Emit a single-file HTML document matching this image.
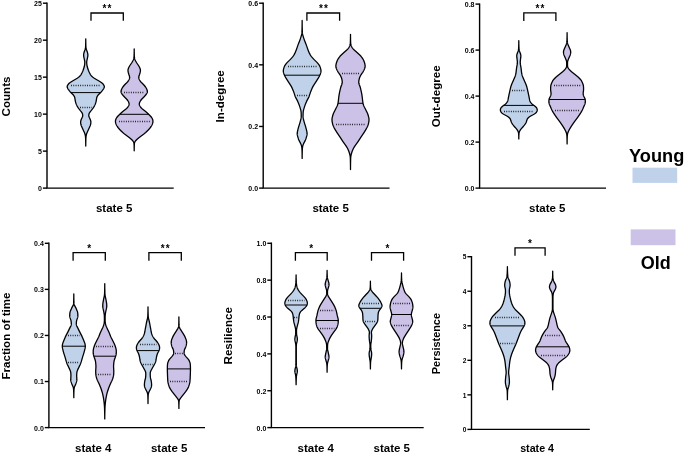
<!DOCTYPE html>
<html lang="en">
<head>
<meta charset="utf-8">
<title>Violin plots: Young vs Old</title>
<style>
html,body{margin:0;padding:0;background:#fff;}
body{width:685px;height:454px;overflow:hidden;}
svg{display:block;will-change:transform;}
svg text{font-family:"Liberation Sans", sans-serif;fill:#000000;}
</style>
</head>
<body>
<svg width="685" height="454" viewBox="0 0 685 454">
<rect width="685" height="454" fill="#ffffff"/>
<path d="M47 2.5 V188.1 H173.7" fill="none" stroke="#000000" stroke-width="1.4" stroke-linejoin="miter"/>
<line x1="42.9" y1="188.1" x2="47" y2="188.1" stroke="#000000" stroke-width="1.4"/>
<text x="41.9" y="191.01" font-size="7" font-weight="700" text-anchor="end">0</text>
<line x1="42.9" y1="151.12" x2="47" y2="151.12" stroke="#000000" stroke-width="1.4"/>
<text x="41.9" y="154.03" font-size="7" font-weight="700" text-anchor="end">5</text>
<line x1="42.9" y1="114.14" x2="47" y2="114.14" stroke="#000000" stroke-width="1.4"/>
<text x="41.9" y="117.05" font-size="7" font-weight="700" text-anchor="end">10</text>
<line x1="42.9" y1="77.16" x2="47" y2="77.16" stroke="#000000" stroke-width="1.4"/>
<text x="41.9" y="80.07" font-size="7" font-weight="700" text-anchor="end">15</text>
<line x1="42.9" y1="40.18" x2="47" y2="40.18" stroke="#000000" stroke-width="1.4"/>
<text x="41.9" y="43.09" font-size="7" font-weight="700" text-anchor="end">20</text>
<line x1="42.9" y1="3.2" x2="47" y2="3.2" stroke="#000000" stroke-width="1.4"/>
<text x="41.9" y="6.11" font-size="7" font-weight="700" text-anchor="end">25</text>
<text transform="translate(9.7 96.5) rotate(-90)" font-size="11.6" font-weight="700" text-anchor="middle">Counts</text>
<text x="114.2" y="212.3" font-size="11.5" font-weight="700" text-anchor="middle">state 5</text>
<path d="M91 20.8 V13 H123.3 V20.8" fill="none" stroke="#000000" stroke-width="1.3"/>
<text x="107.6" y="11.9" font-size="10" font-weight="700" text-anchor="middle" letter-spacing="1.2">**</text>
<path d="M85.75 38.8 L85.75 39.3 L85.75 39.8 L85.76 40.3 L85.76 40.8 L85.76 41.3 L85.77 41.8 L85.78 42.3 L85.79 42.8 L85.8 43.3 L85.81 43.8 L85.82 44.3 L85.83 44.8 L85.85 45.3 L85.87 45.8 L85.89 46.3 L85.91 46.8 L85.94 47.3 L85.98 47.8 L86.05 48.3 L86.15 48.8 L86.29 49.3 L86.47 49.8 L86.66 50.3 L86.86 50.8 L87.04 51.3 L87.22 51.8 L87.38 52.3 L87.53 52.8 L87.66 53.3 L87.77 53.8 L87.84 54.3 L87.88 54.8 L87.87 55.3 L87.83 55.8 L87.77 56.3 L87.68 56.8 L87.59 57.3 L87.48 57.8 L87.38 58.3 L87.27 58.8 L87.15 59.3 L87.04 59.8 L86.93 60.3 L86.83 60.8 L86.76 61.3 L86.71 61.8 L86.7 62.3 L86.7 62.8 L86.73 63.3 L86.78 63.8 L86.83 64.3 L86.9 64.8 L86.98 65.3 L87.07 65.8 L87.17 66.3 L87.29 66.8 L87.43 67.3 L87.57 67.8 L87.72 68.3 L87.88 68.8 L88.04 69.3 L88.21 69.8 L88.39 70.3 L88.59 70.8 L88.79 71.3 L89.01 71.8 L89.24 72.3 L89.48 72.8 L89.75 73.3 L90.03 73.8 L90.32 74.3 L90.64 74.8 L90.99 75.3 L91.38 75.8 L91.83 76.3 L92.35 76.8 L92.94 77.3 L93.6 77.8 L94.33 78.3 L95.12 78.8 L95.95 79.3 L96.81 79.8 L97.68 80.3 L98.53 80.8 L99.36 81.3 L100.17 81.8 L100.93 82.3 L101.64 82.8 L102.27 83.3 L102.81 83.8 L103.25 84.3 L103.61 84.8 L103.9 85.3 L104.12 85.8 L104.26 86.3 L104.31 86.8 L104.25 87.3 L104.09 87.8 L103.84 88.3 L103.52 88.8 L103.17 89.3 L102.8 89.8 L102.43 90.3 L102.06 90.8 L101.67 91.3 L101.27 91.8 L100.85 92.3 L100.4 92.8 L99.91 93.3 L99.4 93.8 L98.87 94.3 L98.37 94.8 L97.93 95.3 L97.56 95.8 L97.27 96.3 L97.04 96.8 L96.87 97.3 L96.73 97.8 L96.62 98.3 L96.53 98.8 L96.44 99.3 L96.37 99.8 L96.29 100.3 L96.2 100.8 L96.1 101.3 L95.99 101.8 L95.86 102.3 L95.72 102.8 L95.56 103.3 L95.39 103.8 L95.19 104.3 L94.97 104.8 L94.73 105.3 L94.46 105.8 L94.17 106.3 L93.87 106.8 L93.55 107.3 L93.22 107.8 L92.87 108.3 L92.51 108.8 L92.13 109.3 L91.74 109.8 L91.35 110.3 L90.94 110.8 L90.53 111.3 L90.14 111.8 L89.79 112.3 L89.49 112.8 L89.24 113.3 L89.06 113.8 L88.92 114.3 L88.82 114.8 L88.77 115.3 L88.79 115.8 L88.88 116.3 L89.04 116.8 L89.24 117.3 L89.47 117.8 L89.7 118.3 L89.93 118.8 L90.15 119.3 L90.36 119.8 L90.54 120.3 L90.69 120.8 L90.8 121.3 L90.86 121.8 L90.88 122.3 L90.85 122.8 L90.79 123.3 L90.72 123.8 L90.61 124.3 L90.49 124.8 L90.34 125.3 L90.16 125.8 L89.96 126.3 L89.75 126.8 L89.53 127.3 L89.31 127.8 L89.08 128.3 L88.85 128.8 L88.62 129.3 L88.39 129.8 L88.16 130.3 L87.92 130.8 L87.69 131.3 L87.46 131.8 L87.23 132.3 L87.01 132.8 L86.81 133.3 L86.63 133.8 L86.47 134.3 L86.34 134.8 L86.23 135.3 L86.14 135.8 L86.06 136.3 L86.01 136.8 L85.97 137.3 L85.94 137.8 L85.91 138.3 L85.89 138.8 L85.87 139.3 L85.85 139.8 L85.84 140.3 L85.82 140.8 L85.81 141.3 L85.8 141.8 L85.79 142.3 L85.78 142.8 L85.77 143.3 L85.76 143.8 L85.76 144.3 L85.76 144.8 L85.75 145.3 L85.75 145.8 L85.75 146.05 L85.75 145.8 L85.75 145.3 L85.74 144.8 L85.74 144.3 L85.74 143.8 L85.73 143.3 L85.72 142.8 L85.71 142.3 L85.7 141.8 L85.69 141.3 L85.68 140.8 L85.66 140.3 L85.65 139.8 L85.63 139.3 L85.61 138.8 L85.59 138.3 L85.56 137.8 L85.53 137.3 L85.49 136.8 L85.44 136.3 L85.36 135.8 L85.27 135.3 L85.16 134.8 L85.03 134.3 L84.87 133.8 L84.69 133.3 L84.49 132.8 L84.27 132.3 L84.04 131.8 L83.81 131.3 L83.58 130.8 L83.34 130.3 L83.11 129.8 L82.88 129.3 L82.65 128.8 L82.42 128.3 L82.19 127.8 L81.97 127.3 L81.75 126.8 L81.54 126.3 L81.34 125.8 L81.16 125.3 L81.01 124.8 L80.89 124.3 L80.78 123.8 L80.71 123.3 L80.65 122.8 L80.62 122.3 L80.64 121.8 L80.7 121.3 L80.81 120.8 L80.96 120.3 L81.14 119.8 L81.35 119.3 L81.57 118.8 L81.8 118.3 L82.03 117.8 L82.26 117.3 L82.46 116.8 L82.62 116.3 L82.71 115.8 L82.73 115.3 L82.68 114.8 L82.58 114.3 L82.44 113.8 L82.26 113.3 L82.01 112.8 L81.71 112.3 L81.36 111.8 L80.97 111.3 L80.56 110.8 L80.15 110.3 L79.76 109.8 L79.37 109.3 L78.99 108.8 L78.63 108.3 L78.28 107.8 L77.95 107.3 L77.63 106.8 L77.33 106.3 L77.04 105.8 L76.77 105.3 L76.53 104.8 L76.31 104.3 L76.11 103.8 L75.94 103.3 L75.78 102.8 L75.64 102.3 L75.51 101.8 L75.4 101.3 L75.3 100.8 L75.21 100.3 L75.13 99.8 L75.06 99.3 L74.97 98.8 L74.88 98.3 L74.77 97.8 L74.63 97.3 L74.46 96.8 L74.23 96.3 L73.94 95.8 L73.57 95.3 L73.13 94.8 L72.63 94.3 L72.1 93.8 L71.59 93.3 L71.1 92.8 L70.65 92.3 L70.23 91.8 L69.83 91.3 L69.44 90.8 L69.07 90.3 L68.7 89.8 L68.33 89.3 L67.98 88.8 L67.66 88.3 L67.41 87.8 L67.25 87.3 L67.19 86.8 L67.24 86.3 L67.38 85.8 L67.6 85.3 L67.89 84.8 L68.25 84.3 L68.69 83.8 L69.23 83.3 L69.86 82.8 L70.57 82.3 L71.33 81.8 L72.14 81.3 L72.97 80.8 L73.82 80.3 L74.69 79.8 L75.55 79.3 L76.38 78.8 L77.17 78.3 L77.9 77.8 L78.56 77.3 L79.15 76.8 L79.67 76.3 L80.12 75.8 L80.51 75.3 L80.86 74.8 L81.18 74.3 L81.47 73.8 L81.75 73.3 L82.02 72.8 L82.26 72.3 L82.49 71.8 L82.71 71.3 L82.91 70.8 L83.11 70.3 L83.29 69.8 L83.46 69.3 L83.62 68.8 L83.78 68.3 L83.93 67.8 L84.07 67.3 L84.21 66.8 L84.33 66.3 L84.43 65.8 L84.52 65.3 L84.6 64.8 L84.67 64.3 L84.72 63.8 L84.77 63.3 L84.8 62.8 L84.8 62.3 L84.79 61.8 L84.74 61.3 L84.67 60.8 L84.57 60.3 L84.46 59.8 L84.35 59.3 L84.23 58.8 L84.12 58.3 L84.02 57.8 L83.91 57.3 L83.82 56.8 L83.73 56.3 L83.67 55.8 L83.63 55.3 L83.62 54.8 L83.66 54.3 L83.73 53.8 L83.84 53.3 L83.97 52.8 L84.12 52.3 L84.28 51.8 L84.46 51.3 L84.64 50.8 L84.84 50.3 L85.03 49.8 L85.21 49.3 L85.35 48.8 L85.45 48.3 L85.52 47.8 L85.56 47.3 L85.59 46.8 L85.61 46.3 L85.63 45.8 L85.65 45.3 L85.67 44.8 L85.68 44.3 L85.69 43.8 L85.7 43.3 L85.71 42.8 L85.72 42.3 L85.73 41.8 L85.74 41.3 L85.74 40.8 L85.74 40.3 L85.75 39.8 L85.75 39.3 Z" fill="#C0D2EA" stroke="#000000" stroke-width="1.3" stroke-linejoin="round"/>
<line x1="70.92" y1="92.6" x2="100.58" y2="92.6" stroke="#000000" stroke-width="1.0"/>
<line x1="71" y1="85.5" x2="100.53" y2="85.5" stroke="#000000" stroke-width="1.3" stroke-opacity="0.88" stroke-dasharray="0.9 1.4"/>
<line x1="80" y1="107.5" x2="91.99" y2="107.5" stroke="#000000" stroke-width="1.3" stroke-opacity="0.88" stroke-dasharray="0.9 1.4"/>
<path d="M134.2 49 L134.2 49.5 L134.2 50 L134.21 50.5 L134.21 51 L134.22 51.5 L134.23 52 L134.24 52.5 L134.25 53 L134.26 53.5 L134.27 54 L134.29 54.5 L134.3 55 L134.32 55.5 L134.34 56 L134.37 56.5 L134.4 57 L134.44 57.5 L134.51 58 L134.61 58.5 L134.75 59 L134.93 59.5 L135.15 60 L135.39 60.5 L135.64 61 L135.91 61.5 L136.19 62 L136.48 62.5 L136.8 63 L137.13 63.5 L137.47 64 L137.82 64.5 L138.17 65 L138.5 65.5 L138.81 66 L139.09 66.5 L139.36 67 L139.61 67.5 L139.84 68 L140.04 68.5 L140.21 69 L140.33 69.5 L140.4 70 L140.41 70.5 L140.38 71 L140.31 71.5 L140.21 72 L140.09 72.5 L139.97 73 L139.83 73.5 L139.68 74 L139.52 74.5 L139.34 75 L139.17 75.5 L139.01 76 L138.88 76.5 L138.79 77 L138.77 77.5 L138.82 78 L138.93 78.5 L139.09 79 L139.31 79.5 L139.56 80 L139.85 80.5 L140.18 81 L140.55 81.5 L140.97 82 L141.44 82.5 L141.94 83 L142.46 83.5 L142.97 84 L143.46 84.5 L143.92 85 L144.36 85.5 L144.77 86 L145.17 86.5 L145.53 87 L145.86 87.5 L146.16 88 L146.43 88.5 L146.67 89 L146.88 89.5 L147.07 90 L147.22 90.5 L147.32 91 L147.37 91.5 L147.34 92 L147.23 92.5 L147.03 93 L146.77 93.5 L146.44 94 L146.06 94.5 L145.65 95 L145.23 95.5 L144.79 96 L144.35 96.5 L143.89 97 L143.41 97.5 L142.92 98 L142.42 98.5 L141.93 99 L141.47 99.5 L141.06 100 L140.69 100.5 L140.37 101 L140.09 101.5 L139.84 102 L139.62 102.5 L139.45 103 L139.33 103.5 L139.29 104 L139.32 104.5 L139.44 105 L139.63 105.5 L139.88 106 L140.19 106.5 L140.54 107 L140.93 107.5 L141.37 108 L141.88 108.5 L142.44 109 L143.06 109.5 L143.7 110 L144.35 110.5 L144.99 111 L145.6 111.5 L146.19 112 L146.75 112.5 L147.29 113 L147.82 113.5 L148.34 114 L148.85 114.5 L149.35 115 L149.86 115.5 L150.35 116 L150.81 116.5 L151.24 117 L151.62 117.5 L151.94 118 L152.2 118.5 L152.43 119 L152.62 119.5 L152.77 120 L152.88 120.5 L152.94 121 L152.96 121.5 L152.92 122 L152.84 122.5 L152.71 123 L152.56 123.5 L152.38 124 L152.18 124.5 L151.95 125 L151.69 125.5 L151.4 126 L151.08 126.5 L150.72 127 L150.35 127.5 L149.96 128 L149.55 128.5 L149.13 129 L148.69 129.5 L148.24 130 L147.76 130.5 L147.26 131 L146.74 131.5 L146.2 132 L145.65 132.5 L145.07 133 L144.48 133.5 L143.86 134 L143.21 134.5 L142.55 135 L141.87 135.5 L141.19 136 L140.51 136.5 L139.86 137 L139.22 137.5 L138.59 138 L137.99 138.5 L137.41 139 L136.87 139.5 L136.36 140 L135.9 140.5 L135.48 141 L135.13 141.5 L134.84 142 L134.63 142.5 L134.49 143 L134.41 143.5 L134.36 144 L134.33 144.5 L134.31 145 L134.29 145.5 L134.27 146 L134.26 146.5 L134.24 147 L134.23 147.5 L134.22 148 L134.22 148.5 L134.21 149 L134.21 149.5 L134.2 150 L134.2 150.5 L134.2 150.75 L134.2 150.5 L134.2 150 L134.19 149.5 L134.19 149 L134.18 148.5 L134.18 148 L134.17 147.5 L134.16 147 L134.14 146.5 L134.13 146 L134.11 145.5 L134.09 145 L134.07 144.5 L134.04 144 L133.99 143.5 L133.91 143 L133.77 142.5 L133.56 142 L133.27 141.5 L132.92 141 L132.5 140.5 L132.04 140 L131.53 139.5 L130.99 139 L130.41 138.5 L129.81 138 L129.18 137.5 L128.54 137 L127.89 136.5 L127.21 136 L126.53 135.5 L125.85 135 L125.19 134.5 L124.54 134 L123.92 133.5 L123.33 133 L122.75 132.5 L122.2 132 L121.66 131.5 L121.14 131 L120.64 130.5 L120.16 130 L119.71 129.5 L119.27 129 L118.85 128.5 L118.44 128 L118.05 127.5 L117.68 127 L117.32 126.5 L117 126 L116.71 125.5 L116.45 125 L116.22 124.5 L116.02 124 L115.84 123.5 L115.69 123 L115.56 122.5 L115.48 122 L115.44 121.5 L115.46 121 L115.52 120.5 L115.63 120 L115.78 119.5 L115.97 119 L116.2 118.5 L116.46 118 L116.78 117.5 L117.16 117 L117.59 116.5 L118.05 116 L118.54 115.5 L119.05 115 L119.55 114.5 L120.06 114 L120.58 113.5 L121.11 113 L121.65 112.5 L122.21 112 L122.8 111.5 L123.41 111 L124.05 110.5 L124.7 110 L125.34 109.5 L125.96 109 L126.52 108.5 L127.03 108 L127.47 107.5 L127.86 107 L128.21 106.5 L128.52 106 L128.77 105.5 L128.96 105 L129.08 104.5 L129.11 104 L129.07 103.5 L128.95 103 L128.78 102.5 L128.56 102 L128.31 101.5 L128.03 101 L127.71 100.5 L127.34 100 L126.93 99.5 L126.47 99 L125.98 98.5 L125.48 98 L124.99 97.5 L124.51 97 L124.05 96.5 L123.61 96 L123.17 95.5 L122.75 95 L122.34 94.5 L121.96 94 L121.63 93.5 L121.37 93 L121.17 92.5 L121.06 92 L121.03 91.5 L121.08 91 L121.18 90.5 L121.33 90 L121.52 89.5 L121.73 89 L121.97 88.5 L122.24 88 L122.54 87.5 L122.87 87 L123.23 86.5 L123.63 86 L124.04 85.5 L124.48 85 L124.94 84.5 L125.43 84 L125.94 83.5 L126.46 83 L126.96 82.5 L127.43 82 L127.85 81.5 L128.22 81 L128.55 80.5 L128.84 80 L129.09 79.5 L129.31 79 L129.47 78.5 L129.58 78 L129.63 77.5 L129.61 77 L129.52 76.5 L129.39 76 L129.23 75.5 L129.06 75 L128.88 74.5 L128.72 74 L128.57 73.5 L128.43 73 L128.31 72.5 L128.19 72 L128.09 71.5 L128.02 71 L127.99 70.5 L128 70 L128.07 69.5 L128.19 69 L128.36 68.5 L128.56 68 L128.79 67.5 L129.04 67 L129.31 66.5 L129.59 66 L129.9 65.5 L130.23 65 L130.58 64.5 L130.93 64 L131.27 63.5 L131.6 63 L131.92 62.5 L132.21 62 L132.49 61.5 L132.76 61 L133.01 60.5 L133.25 60 L133.47 59.5 L133.65 59 L133.79 58.5 L133.89 58 L133.96 57.5 L134 57 L134.03 56.5 L134.06 56 L134.08 55.5 L134.1 55 L134.11 54.5 L134.13 54 L134.14 53.5 L134.15 53 L134.16 52.5 L134.17 52 L134.18 51.5 L134.19 51 L134.19 50.5 L134.2 50 L134.2 49.5 Z" fill="#CCC2E8" stroke="#000000" stroke-width="1.3" stroke-linejoin="round"/>
<line x1="119.75" y1="114.3" x2="148.65" y2="114.3" stroke="#000000" stroke-width="1.0"/>
<line x1="124" y1="92.5" x2="144.61" y2="92.5" stroke="#000000" stroke-width="1.3" stroke-opacity="0.88" stroke-dasharray="0.9 1.4"/>
<line x1="119" y1="121.5" x2="149.73" y2="121.5" stroke="#000000" stroke-width="1.3" stroke-opacity="0.88" stroke-dasharray="0.9 1.4"/>
<path d="M263.2 2.5 V188.1 H389.5" fill="none" stroke="#000000" stroke-width="1.4" stroke-linejoin="miter"/>
<line x1="259.1" y1="188.1" x2="263.2" y2="188.1" stroke="#000000" stroke-width="1.4"/>
<text x="258.1" y="191.01" font-size="7" font-weight="700" text-anchor="end">0.0</text>
<line x1="259.1" y1="126.47" x2="263.2" y2="126.47" stroke="#000000" stroke-width="1.4"/>
<text x="258.1" y="129.37" font-size="7" font-weight="700" text-anchor="end">0.2</text>
<line x1="259.1" y1="64.83" x2="263.2" y2="64.83" stroke="#000000" stroke-width="1.4"/>
<text x="258.1" y="67.74" font-size="7" font-weight="700" text-anchor="end">0.4</text>
<line x1="259.1" y1="3.2" x2="263.2" y2="3.2" stroke="#000000" stroke-width="1.4"/>
<text x="258.1" y="6.11" font-size="7" font-weight="700" text-anchor="end">0.6</text>
<text transform="translate(224.4 96.3) rotate(-90)" font-size="11.6" font-weight="700" text-anchor="middle">In-degree</text>
<text x="330.6" y="212.3" font-size="11.5" font-weight="700" text-anchor="middle">state 5</text>
<path d="M306.9 20.8 V13 H339.6 V20.8" fill="none" stroke="#000000" stroke-width="1.3"/>
<text x="324.1" y="11.9" font-size="10" font-weight="700" text-anchor="middle" letter-spacing="1.2">**</text>
<path d="M302.15 20.4 L302.15 20.9 L302.15 21.4 L302.15 21.9 L302.16 22.4 L302.16 22.9 L302.16 23.4 L302.17 23.9 L302.17 24.4 L302.18 24.9 L302.19 25.4 L302.19 25.9 L302.2 26.4 L302.21 26.9 L302.22 27.4 L302.23 27.9 L302.24 28.4 L302.26 28.9 L302.27 29.4 L302.28 29.9 L302.3 30.4 L302.31 30.9 L302.33 31.4 L302.35 31.9 L302.38 32.4 L302.42 32.9 L302.48 33.4 L302.56 33.9 L302.66 34.4 L302.77 34.9 L302.9 35.4 L303.04 35.9 L303.18 36.4 L303.33 36.9 L303.48 37.4 L303.64 37.9 L303.8 38.4 L303.97 38.9 L304.15 39.4 L304.34 39.9 L304.54 40.4 L304.74 40.9 L304.94 41.4 L305.14 41.9 L305.34 42.4 L305.53 42.9 L305.72 43.4 L305.91 43.9 L306.09 44.4 L306.26 44.9 L306.44 45.4 L306.61 45.9 L306.78 46.4 L306.96 46.9 L307.13 47.4 L307.31 47.9 L307.5 48.4 L307.68 48.9 L307.87 49.4 L308.06 49.9 L308.26 50.4 L308.45 50.9 L308.65 51.4 L308.85 51.9 L309.06 52.4 L309.28 52.9 L309.51 53.4 L309.76 53.9 L310.02 54.4 L310.3 54.9 L310.6 55.4 L310.94 55.9 L311.31 56.4 L311.7 56.9 L312.12 57.4 L312.55 57.9 L313 58.4 L313.46 58.9 L313.94 59.4 L314.42 59.9 L314.93 60.4 L315.45 60.9 L315.97 61.4 L316.48 61.9 L316.97 62.4 L317.43 62.9 L317.86 63.4 L318.26 63.9 L318.64 64.4 L319 64.9 L319.32 65.4 L319.61 65.9 L319.86 66.4 L320.07 66.9 L320.25 67.4 L320.42 67.9 L320.56 68.4 L320.69 68.9 L320.8 69.4 L320.89 69.9 L320.95 70.4 L320.98 70.9 L320.97 71.4 L320.92 71.9 L320.83 72.4 L320.7 72.9 L320.53 73.4 L320.35 73.9 L320.14 74.4 L319.92 74.9 L319.7 75.4 L319.47 75.9 L319.23 76.4 L318.97 76.9 L318.69 77.4 L318.41 77.9 L318.11 78.4 L317.8 78.9 L317.49 79.4 L317.18 79.9 L316.87 80.4 L316.55 80.9 L316.24 81.4 L315.92 81.9 L315.59 82.4 L315.26 82.9 L314.93 83.4 L314.6 83.9 L314.27 84.4 L313.95 84.9 L313.63 85.4 L313.33 85.9 L313.04 86.4 L312.76 86.9 L312.5 87.4 L312.25 87.9 L312.02 88.4 L311.79 88.9 L311.58 89.4 L311.37 89.9 L311.17 90.4 L310.98 90.9 L310.79 91.4 L310.61 91.9 L310.43 92.4 L310.26 92.9 L310.1 93.4 L309.94 93.9 L309.78 94.4 L309.61 94.9 L309.44 95.4 L309.26 95.9 L309.07 96.4 L308.86 96.9 L308.64 97.4 L308.4 97.9 L308.14 98.4 L307.88 98.9 L307.61 99.4 L307.34 99.9 L307.07 100.4 L306.82 100.9 L306.57 101.4 L306.34 101.9 L306.12 102.4 L305.91 102.9 L305.71 103.4 L305.51 103.9 L305.33 104.4 L305.14 104.9 L304.97 105.4 L304.8 105.9 L304.64 106.4 L304.48 106.9 L304.32 107.4 L304.17 107.9 L304.01 108.4 L303.86 108.9 L303.72 109.4 L303.58 109.9 L303.46 110.4 L303.36 110.9 L303.27 111.4 L303.21 111.9 L303.16 112.4 L303.13 112.9 L303.11 113.4 L303.1 113.9 L303.08 114.4 L303.07 114.9 L303.07 115.4 L303.06 115.9 L303.07 116.4 L303.09 116.9 L303.13 117.4 L303.2 117.9 L303.28 118.4 L303.38 118.9 L303.49 119.4 L303.61 119.9 L303.74 120.4 L303.87 120.9 L304 121.4 L304.13 121.9 L304.27 122.4 L304.42 122.9 L304.57 123.4 L304.73 123.9 L304.89 124.4 L305.05 124.9 L305.21 125.4 L305.36 125.9 L305.51 126.4 L305.66 126.9 L305.8 127.4 L305.94 127.9 L306.07 128.4 L306.21 128.9 L306.33 129.4 L306.45 129.9 L306.57 130.4 L306.68 130.9 L306.79 131.4 L306.89 131.9 L306.97 132.4 L307.04 132.9 L307.08 133.4 L307.08 133.9 L307.04 134.4 L306.97 134.9 L306.88 135.4 L306.76 135.9 L306.63 136.4 L306.49 136.9 L306.34 137.4 L306.18 137.9 L306.02 138.4 L305.85 138.9 L305.66 139.4 L305.46 139.9 L305.24 140.4 L305.01 140.9 L304.76 141.4 L304.5 141.9 L304.22 142.4 L303.96 142.9 L303.7 143.4 L303.47 143.9 L303.27 144.4 L303.09 144.9 L302.94 145.4 L302.81 145.9 L302.69 146.4 L302.59 146.9 L302.5 147.4 L302.44 147.9 L302.39 148.4 L302.36 148.9 L302.33 149.4 L302.31 149.9 L302.29 150.4 L302.27 150.9 L302.26 151.4 L302.24 151.9 L302.23 152.4 L302.21 152.9 L302.2 153.4 L302.19 153.9 L302.18 154.4 L302.18 154.9 L302.17 155.4 L302.16 155.9 L302.16 156.4 L302.16 156.9 L302.15 157.4 L302.15 157.9 L302.15 158.4 L302.15 157.9 L302.15 157.4 L302.14 156.9 L302.14 156.4 L302.14 155.9 L302.13 155.4 L302.12 154.9 L302.12 154.4 L302.11 153.9 L302.1 153.4 L302.09 152.9 L302.07 152.4 L302.06 151.9 L302.04 151.4 L302.03 150.9 L302.01 150.4 L301.99 149.9 L301.97 149.4 L301.94 148.9 L301.91 148.4 L301.86 147.9 L301.8 147.4 L301.71 146.9 L301.61 146.4 L301.49 145.9 L301.36 145.4 L301.21 144.9 L301.03 144.4 L300.83 143.9 L300.6 143.4 L300.34 142.9 L300.08 142.4 L299.8 141.9 L299.54 141.4 L299.29 140.9 L299.06 140.4 L298.84 139.9 L298.64 139.4 L298.45 138.9 L298.28 138.4 L298.12 137.9 L297.96 137.4 L297.81 136.9 L297.67 136.4 L297.54 135.9 L297.42 135.4 L297.33 134.9 L297.26 134.4 L297.22 133.9 L297.22 133.4 L297.26 132.9 L297.33 132.4 L297.41 131.9 L297.51 131.4 L297.62 130.9 L297.73 130.4 L297.85 129.9 L297.97 129.4 L298.09 128.9 L298.23 128.4 L298.36 127.9 L298.5 127.4 L298.64 126.9 L298.79 126.4 L298.94 125.9 L299.09 125.4 L299.25 124.9 L299.41 124.4 L299.57 123.9 L299.73 123.4 L299.88 122.9 L300.03 122.4 L300.17 121.9 L300.3 121.4 L300.43 120.9 L300.56 120.4 L300.69 119.9 L300.81 119.4 L300.92 118.9 L301.02 118.4 L301.1 117.9 L301.17 117.4 L301.21 116.9 L301.23 116.4 L301.24 115.9 L301.23 115.4 L301.23 114.9 L301.22 114.4 L301.2 113.9 L301.19 113.4 L301.17 112.9 L301.14 112.4 L301.09 111.9 L301.03 111.4 L300.94 110.9 L300.84 110.4 L300.72 109.9 L300.58 109.4 L300.44 108.9 L300.29 108.4 L300.13 107.9 L299.98 107.4 L299.82 106.9 L299.66 106.4 L299.5 105.9 L299.33 105.4 L299.16 104.9 L298.97 104.4 L298.79 103.9 L298.59 103.4 L298.39 102.9 L298.18 102.4 L297.96 101.9 L297.73 101.4 L297.48 100.9 L297.23 100.4 L296.96 99.9 L296.69 99.4 L296.42 98.9 L296.16 98.4 L295.9 97.9 L295.66 97.4 L295.44 96.9 L295.23 96.4 L295.04 95.9 L294.86 95.4 L294.69 94.9 L294.52 94.4 L294.36 93.9 L294.2 93.4 L294.04 92.9 L293.87 92.4 L293.69 91.9 L293.51 91.4 L293.32 90.9 L293.13 90.4 L292.93 89.9 L292.72 89.4 L292.51 88.9 L292.28 88.4 L292.05 87.9 L291.8 87.4 L291.54 86.9 L291.26 86.4 L290.97 85.9 L290.67 85.4 L290.35 84.9 L290.03 84.4 L289.7 83.9 L289.37 83.4 L289.04 82.9 L288.71 82.4 L288.38 81.9 L288.06 81.4 L287.75 80.9 L287.43 80.4 L287.12 79.9 L286.81 79.4 L286.5 78.9 L286.19 78.4 L285.89 77.9 L285.61 77.4 L285.33 76.9 L285.07 76.4 L284.83 75.9 L284.6 75.4 L284.38 74.9 L284.16 74.4 L283.95 73.9 L283.77 73.4 L283.6 72.9 L283.47 72.4 L283.38 71.9 L283.33 71.4 L283.32 70.9 L283.35 70.4 L283.41 69.9 L283.5 69.4 L283.61 68.9 L283.74 68.4 L283.88 67.9 L284.05 67.4 L284.23 66.9 L284.44 66.4 L284.69 65.9 L284.98 65.4 L285.3 64.9 L285.66 64.4 L286.04 63.9 L286.44 63.4 L286.87 62.9 L287.33 62.4 L287.82 61.9 L288.33 61.4 L288.85 60.9 L289.37 60.4 L289.88 59.9 L290.36 59.4 L290.84 58.9 L291.3 58.4 L291.75 57.9 L292.18 57.4 L292.6 56.9 L292.99 56.4 L293.36 55.9 L293.7 55.4 L294 54.9 L294.28 54.4 L294.54 53.9 L294.79 53.4 L295.02 52.9 L295.24 52.4 L295.45 51.9 L295.65 51.4 L295.85 50.9 L296.04 50.4 L296.24 49.9 L296.43 49.4 L296.62 48.9 L296.8 48.4 L296.99 47.9 L297.17 47.4 L297.34 46.9 L297.52 46.4 L297.69 45.9 L297.86 45.4 L298.04 44.9 L298.21 44.4 L298.39 43.9 L298.58 43.4 L298.77 42.9 L298.96 42.4 L299.16 41.9 L299.36 41.4 L299.56 40.9 L299.76 40.4 L299.96 39.9 L300.15 39.4 L300.33 38.9 L300.5 38.4 L300.66 37.9 L300.82 37.4 L300.97 36.9 L301.12 36.4 L301.26 35.9 L301.4 35.4 L301.53 34.9 L301.64 34.4 L301.74 33.9 L301.82 33.4 L301.88 32.9 L301.92 32.4 L301.95 31.9 L301.97 31.4 L301.99 30.9 L302 30.4 L302.02 29.9 L302.03 29.4 L302.04 28.9 L302.06 28.4 L302.07 27.9 L302.08 27.4 L302.09 26.9 L302.1 26.4 L302.11 25.9 L302.11 25.4 L302.12 24.9 L302.13 24.4 L302.13 23.9 L302.14 23.4 L302.14 22.9 L302.14 22.4 L302.15 21.9 L302.15 21.4 L302.15 20.9 Z" fill="#C0D2EA" stroke="#000000" stroke-width="1.3" stroke-linejoin="round"/>
<line x1="284.51" y1="75.2" x2="319.79" y2="75.2" stroke="#000000" stroke-width="1.0"/>
<line x1="288" y1="66.5" x2="316.7" y2="66.5" stroke="#000000" stroke-width="1.3" stroke-opacity="0.88" stroke-dasharray="0.9 1.4"/>
<line x1="297" y1="95.5" x2="307.65" y2="95.5" stroke="#000000" stroke-width="1.3" stroke-opacity="0.88" stroke-dasharray="0.9 1.4"/>
<path d="M350.5 34.3 L350.5 34.8 L350.5 35.3 L350.51 35.8 L350.51 36.3 L350.51 36.8 L350.52 37.3 L350.53 37.8 L350.53 38.3 L350.54 38.8 L350.55 39.3 L350.56 39.8 L350.58 40.3 L350.59 40.8 L350.61 41.3 L350.62 41.8 L350.64 42.3 L350.66 42.8 L350.69 43.3 L350.73 43.8 L350.79 44.3 L350.88 44.8 L351.03 45.3 L351.22 45.8 L351.46 46.3 L351.73 46.8 L352.04 47.3 L352.37 47.8 L352.72 48.3 L353.11 48.8 L353.54 49.3 L354.01 49.8 L354.52 50.3 L355.07 50.8 L355.63 51.3 L356.2 51.8 L356.77 52.3 L357.32 52.8 L357.87 53.3 L358.41 53.8 L358.95 54.3 L359.49 54.8 L360.01 55.3 L360.51 55.8 L360.98 56.3 L361.41 56.8 L361.8 57.3 L362.16 57.8 L362.49 58.3 L362.8 58.8 L363.08 59.3 L363.35 59.8 L363.59 60.3 L363.81 60.8 L364.01 61.3 L364.2 61.8 L364.37 62.3 L364.52 62.8 L364.67 63.3 L364.81 63.8 L364.93 64.3 L365.02 64.8 L365.09 65.3 L365.13 65.8 L365.12 66.3 L365.08 66.8 L364.99 67.3 L364.87 67.8 L364.71 68.3 L364.53 68.8 L364.33 69.3 L364.12 69.8 L363.88 70.3 L363.62 70.8 L363.34 71.3 L363.02 71.8 L362.69 72.3 L362.33 72.8 L361.98 73.3 L361.64 73.8 L361.32 74.3 L361.02 74.8 L360.74 75.3 L360.47 75.8 L360.23 76.3 L359.99 76.8 L359.77 77.3 L359.57 77.8 L359.4 78.3 L359.25 78.8 L359.12 79.3 L359.01 79.8 L358.92 80.3 L358.85 80.8 L358.79 81.3 L358.77 81.8 L358.77 82.3 L358.81 82.8 L358.89 83.3 L359.01 83.8 L359.16 84.3 L359.33 84.8 L359.52 85.3 L359.71 85.8 L359.9 86.3 L360.07 86.8 L360.23 87.3 L360.37 87.8 L360.51 88.3 L360.64 88.8 L360.76 89.3 L360.88 89.8 L360.99 90.3 L361.11 90.8 L361.22 91.3 L361.33 91.8 L361.43 92.3 L361.53 92.8 L361.63 93.3 L361.72 93.8 L361.81 94.3 L361.9 94.8 L361.98 95.3 L362.05 95.8 L362.12 96.3 L362.19 96.8 L362.25 97.3 L362.3 97.8 L362.36 98.3 L362.41 98.8 L362.47 99.3 L362.52 99.8 L362.58 100.3 L362.64 100.8 L362.71 101.3 L362.78 101.8 L362.85 102.3 L362.93 102.8 L363.02 103.3 L363.13 103.8 L363.25 104.3 L363.4 104.8 L363.57 105.3 L363.76 105.8 L363.98 106.3 L364.22 106.8 L364.46 107.3 L364.72 107.8 L364.97 108.3 L365.22 108.8 L365.47 109.3 L365.72 109.8 L365.97 110.3 L366.23 110.8 L366.48 111.3 L366.74 111.8 L366.98 112.3 L367.22 112.8 L367.44 113.3 L367.64 113.8 L367.83 114.3 L368 114.8 L368.16 115.3 L368.31 115.8 L368.46 116.3 L368.59 116.8 L368.72 117.3 L368.82 117.8 L368.91 118.3 L368.97 118.8 L369 119.3 L369.01 119.8 L368.99 120.3 L368.95 120.8 L368.89 121.3 L368.81 121.8 L368.72 122.3 L368.62 122.8 L368.51 123.3 L368.39 123.8 L368.26 124.3 L368.12 124.8 L367.96 125.3 L367.78 125.8 L367.59 126.3 L367.36 126.8 L367.12 127.3 L366.85 127.8 L366.57 128.3 L366.28 128.8 L365.98 129.3 L365.68 129.8 L365.38 130.3 L365.07 130.8 L364.77 131.3 L364.46 131.8 L364.14 132.3 L363.82 132.8 L363.49 133.3 L363.16 133.8 L362.82 134.3 L362.48 134.8 L362.14 135.3 L361.79 135.8 L361.46 136.3 L361.12 136.8 L360.79 137.3 L360.47 137.8 L360.14 138.3 L359.82 138.8 L359.5 139.3 L359.17 139.8 L358.85 140.3 L358.52 140.8 L358.19 141.3 L357.85 141.8 L357.5 142.3 L357.14 142.8 L356.78 143.3 L356.42 143.8 L356.05 144.3 L355.69 144.8 L355.34 145.3 L355 145.8 L354.67 146.3 L354.36 146.8 L354.07 147.3 L353.8 147.8 L353.53 148.3 L353.29 148.8 L353.05 149.3 L352.82 149.8 L352.6 150.3 L352.4 150.8 L352.21 151.3 L352.02 151.8 L351.86 152.3 L351.7 152.8 L351.54 153.3 L351.4 153.8 L351.26 154.3 L351.13 154.8 L351.02 155.3 L350.92 155.8 L350.84 156.3 L350.78 156.8 L350.73 157.3 L350.7 157.8 L350.68 158.3 L350.66 158.8 L350.65 159.3 L350.63 159.8 L350.62 160.3 L350.61 160.8 L350.59 161.3 L350.58 161.8 L350.57 162.3 L350.56 162.8 L350.55 163.3 L350.54 163.8 L350.54 164.3 L350.53 164.8 L350.52 165.3 L350.52 165.8 L350.51 166.3 L350.51 166.8 L350.51 167.3 L350.5 167.8 L350.5 168.3 L350.5 168.8 L350.5 169.3 L350.5 169.55 L350.5 169.3 L350.5 168.8 L350.5 168.3 L350.5 167.8 L350.49 167.3 L350.49 166.8 L350.49 166.3 L350.48 165.8 L350.48 165.3 L350.47 164.8 L350.46 164.3 L350.46 163.8 L350.45 163.3 L350.44 162.8 L350.43 162.3 L350.42 161.8 L350.41 161.3 L350.39 160.8 L350.38 160.3 L350.37 159.8 L350.35 159.3 L350.34 158.8 L350.32 158.3 L350.3 157.8 L350.27 157.3 L350.22 156.8 L350.16 156.3 L350.08 155.8 L349.98 155.3 L349.87 154.8 L349.74 154.3 L349.6 153.8 L349.46 153.3 L349.3 152.8 L349.14 152.3 L348.98 151.8 L348.79 151.3 L348.6 150.8 L348.4 150.3 L348.18 149.8 L347.95 149.3 L347.71 148.8 L347.47 148.3 L347.2 147.8 L346.93 147.3 L346.64 146.8 L346.33 146.3 L346 145.8 L345.66 145.3 L345.31 144.8 L344.95 144.3 L344.58 143.8 L344.22 143.3 L343.86 142.8 L343.5 142.3 L343.15 141.8 L342.81 141.3 L342.48 140.8 L342.15 140.3 L341.83 139.8 L341.5 139.3 L341.18 138.8 L340.86 138.3 L340.53 137.8 L340.21 137.3 L339.88 136.8 L339.54 136.3 L339.21 135.8 L338.86 135.3 L338.52 134.8 L338.18 134.3 L337.84 133.8 L337.51 133.3 L337.18 132.8 L336.86 132.3 L336.54 131.8 L336.23 131.3 L335.93 130.8 L335.62 130.3 L335.32 129.8 L335.02 129.3 L334.72 128.8 L334.43 128.3 L334.15 127.8 L333.88 127.3 L333.64 126.8 L333.41 126.3 L333.22 125.8 L333.04 125.3 L332.88 124.8 L332.74 124.3 L332.61 123.8 L332.49 123.3 L332.38 122.8 L332.28 122.3 L332.19 121.8 L332.11 121.3 L332.05 120.8 L332.01 120.3 L331.99 119.8 L332 119.3 L332.03 118.8 L332.09 118.3 L332.18 117.8 L332.28 117.3 L332.41 116.8 L332.54 116.3 L332.69 115.8 L332.84 115.3 L333 114.8 L333.17 114.3 L333.36 113.8 L333.56 113.3 L333.78 112.8 L334.02 112.3 L334.26 111.8 L334.52 111.3 L334.77 110.8 L335.03 110.3 L335.28 109.8 L335.53 109.3 L335.78 108.8 L336.03 108.3 L336.28 107.8 L336.54 107.3 L336.78 106.8 L337.02 106.3 L337.24 105.8 L337.43 105.3 L337.6 104.8 L337.75 104.3 L337.87 103.8 L337.98 103.3 L338.07 102.8 L338.15 102.3 L338.22 101.8 L338.29 101.3 L338.36 100.8 L338.42 100.3 L338.48 99.8 L338.53 99.3 L338.59 98.8 L338.64 98.3 L338.7 97.8 L338.75 97.3 L338.81 96.8 L338.88 96.3 L338.95 95.8 L339.02 95.3 L339.1 94.8 L339.19 94.3 L339.28 93.8 L339.37 93.3 L339.47 92.8 L339.57 92.3 L339.67 91.8 L339.78 91.3 L339.89 90.8 L340.01 90.3 L340.12 89.8 L340.24 89.3 L340.36 88.8 L340.49 88.3 L340.63 87.8 L340.77 87.3 L340.93 86.8 L341.1 86.3 L341.29 85.8 L341.48 85.3 L341.67 84.8 L341.84 84.3 L341.99 83.8 L342.11 83.3 L342.19 82.8 L342.23 82.3 L342.23 81.8 L342.21 81.3 L342.15 80.8 L342.08 80.3 L341.99 79.8 L341.88 79.3 L341.75 78.8 L341.6 78.3 L341.43 77.8 L341.23 77.3 L341.01 76.8 L340.77 76.3 L340.53 75.8 L340.26 75.3 L339.98 74.8 L339.68 74.3 L339.36 73.8 L339.02 73.3 L338.67 72.8 L338.31 72.3 L337.98 71.8 L337.66 71.3 L337.38 70.8 L337.12 70.3 L336.88 69.8 L336.67 69.3 L336.47 68.8 L336.29 68.3 L336.13 67.8 L336.01 67.3 L335.92 66.8 L335.88 66.3 L335.87 65.8 L335.91 65.3 L335.98 64.8 L336.07 64.3 L336.19 63.8 L336.33 63.3 L336.48 62.8 L336.63 62.3 L336.8 61.8 L336.99 61.3 L337.19 60.8 L337.41 60.3 L337.65 59.8 L337.92 59.3 L338.2 58.8 L338.51 58.3 L338.84 57.8 L339.2 57.3 L339.59 56.8 L340.02 56.3 L340.49 55.8 L340.99 55.3 L341.51 54.8 L342.05 54.3 L342.59 53.8 L343.13 53.3 L343.68 52.8 L344.23 52.3 L344.8 51.8 L345.37 51.3 L345.93 50.8 L346.48 50.3 L346.99 49.8 L347.46 49.3 L347.89 48.8 L348.28 48.3 L348.63 47.8 L348.96 47.3 L349.27 46.8 L349.54 46.3 L349.78 45.8 L349.97 45.3 L350.12 44.8 L350.21 44.3 L350.27 43.8 L350.31 43.3 L350.34 42.8 L350.36 42.3 L350.38 41.8 L350.39 41.3 L350.41 40.8 L350.42 40.3 L350.44 39.8 L350.45 39.3 L350.46 38.8 L350.47 38.3 L350.47 37.8 L350.48 37.3 L350.49 36.8 L350.49 36.3 L350.49 35.8 L350.5 35.3 L350.5 34.8 Z" fill="#CCC2E8" stroke="#000000" stroke-width="1.3" stroke-linejoin="round"/>
<line x1="337.98" y1="103.3" x2="363.02" y2="103.3" stroke="#000000" stroke-width="1.0"/>
<line x1="342" y1="73.5" x2="359.29" y2="73.5" stroke="#000000" stroke-width="1.3" stroke-opacity="0.88" stroke-dasharray="0.9 1.4"/>
<line x1="336" y1="124.5" x2="365.08" y2="124.5" stroke="#000000" stroke-width="1.3" stroke-opacity="0.88" stroke-dasharray="0.9 1.4"/>
<path d="M479.6 3.4 V188.1 H606" fill="none" stroke="#000000" stroke-width="1.4" stroke-linejoin="miter"/>
<line x1="475.5" y1="188.1" x2="479.6" y2="188.1" stroke="#000000" stroke-width="1.4"/>
<text x="474.5" y="191.01" font-size="7" font-weight="700" text-anchor="end">0.0</text>
<line x1="475.5" y1="142.1" x2="479.6" y2="142.1" stroke="#000000" stroke-width="1.4"/>
<text x="474.5" y="145.01" font-size="7" font-weight="700" text-anchor="end">0.2</text>
<line x1="475.5" y1="96.1" x2="479.6" y2="96.1" stroke="#000000" stroke-width="1.4"/>
<text x="474.5" y="99.01" font-size="7" font-weight="700" text-anchor="end">0.4</text>
<line x1="475.5" y1="50.1" x2="479.6" y2="50.1" stroke="#000000" stroke-width="1.4"/>
<text x="474.5" y="53.01" font-size="7" font-weight="700" text-anchor="end">0.6</text>
<line x1="475.5" y1="4.1" x2="479.6" y2="4.1" stroke="#000000" stroke-width="1.4"/>
<text x="474.5" y="7.01" font-size="7" font-weight="700" text-anchor="end">0.8</text>
<text transform="translate(440.3 96.3) rotate(-90)" font-size="11.6" font-weight="700" text-anchor="middle">Out-degree</text>
<text x="547.3" y="212.3" font-size="11.5" font-weight="700" text-anchor="middle">state 5</text>
<path d="M523.8 21 V12.9 H555.9 V21" fill="none" stroke="#000000" stroke-width="1.3"/>
<text x="540.6" y="11.8" font-size="10" font-weight="700" text-anchor="middle" letter-spacing="1.2">**</text>
<path d="M518.8 40.7 L518.8 41.2 L518.81 41.7 L518.81 42.2 L518.82 42.7 L518.82 43.2 L518.83 43.7 L518.84 44.2 L518.85 44.7 L518.87 45.2 L518.88 45.7 L518.9 46.2 L518.92 46.7 L518.94 47.2 L518.96 47.7 L518.98 48.2 L519.02 48.7 L519.07 49.2 L519.14 49.7 L519.24 50.2 L519.37 50.7 L519.53 51.2 L519.71 51.7 L519.9 52.2 L520.09 52.7 L520.28 53.2 L520.45 53.7 L520.6 54.2 L520.71 54.7 L520.8 55.2 L520.84 55.7 L520.85 56.2 L520.83 56.7 L520.79 57.2 L520.74 57.7 L520.67 58.2 L520.6 58.7 L520.53 59.2 L520.46 59.7 L520.39 60.2 L520.33 60.7 L520.28 61.2 L520.25 61.7 L520.24 62.2 L520.24 62.7 L520.27 63.2 L520.31 63.7 L520.37 64.2 L520.44 64.7 L520.53 65.2 L520.62 65.7 L520.71 66.2 L520.8 66.7 L520.89 67.2 L520.97 67.7 L521.04 68.2 L521.11 68.7 L521.17 69.2 L521.23 69.7 L521.29 70.2 L521.34 70.7 L521.4 71.2 L521.46 71.7 L521.52 72.2 L521.59 72.7 L521.67 73.2 L521.76 73.7 L521.86 74.2 L521.99 74.7 L522.13 75.2 L522.29 75.7 L522.47 76.2 L522.66 76.7 L522.87 77.2 L523.08 77.7 L523.29 78.2 L523.51 78.7 L523.72 79.2 L523.94 79.7 L524.15 80.2 L524.37 80.7 L524.59 81.2 L524.81 81.7 L525.04 82.2 L525.26 82.7 L525.48 83.2 L525.7 83.7 L525.9 84.2 L526.1 84.7 L526.28 85.2 L526.44 85.7 L526.6 86.2 L526.74 86.7 L526.87 87.2 L527 87.7 L527.12 88.2 L527.23 88.7 L527.35 89.2 L527.46 89.7 L527.58 90.2 L527.69 90.7 L527.8 91.2 L527.91 91.7 L528.03 92.2 L528.14 92.7 L528.25 93.2 L528.36 93.7 L528.46 94.2 L528.57 94.7 L528.68 95.2 L528.79 95.7 L528.89 96.2 L528.99 96.7 L529.09 97.2 L529.18 97.7 L529.27 98.2 L529.36 98.7 L529.46 99.2 L529.56 99.7 L529.68 100.2 L529.82 100.7 L530 101.2 L530.22 101.7 L530.51 102.2 L530.86 102.7 L531.29 103.2 L531.79 103.7 L532.36 104.2 L533.01 104.7 L533.7 105.2 L534.39 105.7 L535.03 106.2 L535.59 106.7 L536.06 107.2 L536.45 107.7 L536.77 108.2 L537.01 108.7 L537.16 109.2 L537.22 109.7 L537.2 110.2 L537.12 110.7 L536.97 111.2 L536.75 111.7 L536.43 112.2 L535.99 112.7 L535.42 113.2 L534.73 113.7 L533.93 114.2 L533.05 114.7 L532.11 115.2 L531.18 115.7 L530.31 116.2 L529.54 116.7 L528.89 117.2 L528.35 117.7 L527.91 118.2 L527.55 118.7 L527.26 119.2 L527.03 119.7 L526.84 120.2 L526.68 120.7 L526.53 121.2 L526.37 121.7 L526.19 122.2 L525.98 122.7 L525.72 123.2 L525.43 123.7 L525.1 124.2 L524.74 124.7 L524.36 125.2 L523.95 125.7 L523.52 126.2 L523.08 126.7 L522.64 127.2 L522.2 127.7 L521.77 128.2 L521.35 128.7 L520.96 129.2 L520.58 129.7 L520.24 130.2 L519.92 130.7 L519.65 131.2 L519.41 131.7 L519.23 132.2 L519.1 132.7 L519.02 133.2 L518.96 133.7 L518.93 134.2 L518.9 134.7 L518.88 135.2 L518.86 135.7 L518.84 136.2 L518.83 136.7 L518.82 137.2 L518.81 137.7 L518.81 138.2 L518.8 138.7 L518.8 138.95 L518.8 138.7 L518.79 138.2 L518.79 137.7 L518.78 137.2 L518.77 136.7 L518.76 136.2 L518.74 135.7 L518.72 135.2 L518.7 134.7 L518.67 134.2 L518.64 133.7 L518.58 133.2 L518.5 132.7 L518.37 132.2 L518.19 131.7 L517.95 131.2 L517.68 130.7 L517.36 130.2 L517.02 129.7 L516.64 129.2 L516.25 128.7 L515.83 128.2 L515.4 127.7 L514.96 127.2 L514.52 126.7 L514.08 126.2 L513.65 125.7 L513.24 125.2 L512.86 124.7 L512.5 124.2 L512.17 123.7 L511.88 123.2 L511.62 122.7 L511.41 122.2 L511.23 121.7 L511.07 121.2 L510.92 120.7 L510.76 120.2 L510.57 119.7 L510.34 119.2 L510.05 118.7 L509.69 118.2 L509.25 117.7 L508.71 117.2 L508.06 116.7 L507.29 116.2 L506.42 115.7 L505.49 115.2 L504.55 114.7 L503.67 114.2 L502.87 113.7 L502.18 113.2 L501.61 112.7 L501.17 112.2 L500.85 111.7 L500.63 111.2 L500.48 110.7 L500.4 110.2 L500.38 109.7 L500.44 109.2 L500.59 108.7 L500.83 108.2 L501.15 107.7 L501.54 107.2 L502.01 106.7 L502.57 106.2 L503.21 105.7 L503.9 105.2 L504.59 104.7 L505.24 104.2 L505.81 103.7 L506.31 103.2 L506.74 102.7 L507.09 102.2 L507.38 101.7 L507.6 101.2 L507.78 100.7 L507.92 100.2 L508.04 99.7 L508.14 99.2 L508.24 98.7 L508.33 98.2 L508.42 97.7 L508.51 97.2 L508.61 96.7 L508.71 96.2 L508.81 95.7 L508.92 95.2 L509.03 94.7 L509.14 94.2 L509.24 93.7 L509.35 93.2 L509.46 92.7 L509.57 92.2 L509.69 91.7 L509.8 91.2 L509.91 90.7 L510.02 90.2 L510.14 89.7 L510.25 89.2 L510.37 88.7 L510.48 88.2 L510.6 87.7 L510.73 87.2 L510.86 86.7 L511 86.2 L511.16 85.7 L511.32 85.2 L511.5 84.7 L511.7 84.2 L511.9 83.7 L512.12 83.2 L512.34 82.7 L512.56 82.2 L512.79 81.7 L513.01 81.2 L513.23 80.7 L513.45 80.2 L513.66 79.7 L513.88 79.2 L514.09 78.7 L514.31 78.2 L514.52 77.7 L514.73 77.2 L514.94 76.7 L515.13 76.2 L515.31 75.7 L515.47 75.2 L515.61 74.7 L515.74 74.2 L515.84 73.7 L515.93 73.2 L516.01 72.7 L516.08 72.2 L516.14 71.7 L516.2 71.2 L516.26 70.7 L516.31 70.2 L516.37 69.7 L516.43 69.2 L516.49 68.7 L516.56 68.2 L516.63 67.7 L516.71 67.2 L516.8 66.7 L516.89 66.2 L516.98 65.7 L517.07 65.2 L517.16 64.7 L517.23 64.2 L517.29 63.7 L517.33 63.2 L517.36 62.7 L517.36 62.2 L517.35 61.7 L517.32 61.2 L517.27 60.7 L517.21 60.2 L517.14 59.7 L517.07 59.2 L517 58.7 L516.93 58.2 L516.86 57.7 L516.81 57.2 L516.77 56.7 L516.75 56.2 L516.76 55.7 L516.8 55.2 L516.89 54.7 L517 54.2 L517.15 53.7 L517.32 53.2 L517.51 52.7 L517.7 52.2 L517.89 51.7 L518.07 51.2 L518.23 50.7 L518.36 50.2 L518.46 49.7 L518.53 49.2 L518.58 48.7 L518.62 48.2 L518.64 47.7 L518.66 47.2 L518.68 46.7 L518.7 46.2 L518.72 45.7 L518.73 45.2 L518.75 44.7 L518.76 44.2 L518.77 43.7 L518.78 43.2 L518.78 42.7 L518.79 42.2 L518.79 41.7 L518.8 41.2 Z" fill="#C0D2EA" stroke="#000000" stroke-width="1.3" stroke-linejoin="round"/>
<line x1="503.62" y1="105.4" x2="533.98" y2="105.4" stroke="#000000" stroke-width="1.0"/>
<line x1="512" y1="90.5" x2="525.67" y2="90.5" stroke="#000000" stroke-width="1.3" stroke-opacity="0.88" stroke-dasharray="0.9 1.4"/>
<line x1="504" y1="111.5" x2="533.73" y2="111.5" stroke="#000000" stroke-width="1.3" stroke-opacity="0.88" stroke-dasharray="0.9 1.4"/>
<path d="M567.1 32.7 L567.1 33.2 L567.1 33.7 L567.11 34.2 L567.11 34.7 L567.12 35.2 L567.13 35.7 L567.13 36.2 L567.14 36.7 L567.15 37.2 L567.17 37.7 L567.18 38.2 L567.2 38.7 L567.21 39.2 L567.23 39.7 L567.25 40.2 L567.27 40.7 L567.3 41.2 L567.34 41.7 L567.4 42.2 L567.48 42.7 L567.59 43.2 L567.73 43.7 L567.9 44.2 L568.08 44.7 L568.28 45.2 L568.48 45.7 L568.69 46.2 L568.91 46.7 L569.13 47.2 L569.36 47.7 L569.59 48.2 L569.82 48.7 L570.03 49.2 L570.21 49.7 L570.38 50.2 L570.51 50.7 L570.62 51.2 L570.69 51.7 L570.72 52.2 L570.7 52.7 L570.64 53.2 L570.54 53.7 L570.42 54.2 L570.27 54.7 L570.09 55.2 L569.9 55.7 L569.68 56.2 L569.46 56.7 L569.23 57.2 L569.02 57.7 L568.8 58.2 L568.58 58.7 L568.37 59.2 L568.17 59.7 L567.99 60.2 L567.83 60.7 L567.71 61.2 L567.61 61.7 L567.56 62.2 L567.52 62.7 L567.51 63.2 L567.51 63.7 L567.51 64.2 L567.52 64.7 L567.53 65.2 L567.54 65.7 L567.58 66.2 L567.65 66.7 L567.79 67.2 L568 67.7 L568.29 68.2 L568.65 68.7 L569.06 69.2 L569.51 69.7 L569.99 70.2 L570.49 70.7 L571.03 71.2 L571.59 71.7 L572.19 72.2 L572.81 72.7 L573.43 73.2 L574.06 73.7 L574.69 74.2 L575.32 74.7 L575.95 75.2 L576.57 75.7 L577.18 76.2 L577.77 76.7 L578.32 77.2 L578.85 77.7 L579.34 78.2 L579.81 78.7 L580.25 79.2 L580.65 79.7 L581.03 80.2 L581.37 80.7 L581.67 81.2 L581.94 81.7 L582.18 82.2 L582.41 82.7 L582.62 83.2 L582.81 83.7 L582.99 84.2 L583.14 84.7 L583.27 85.2 L583.37 85.7 L583.44 86.2 L583.49 86.7 L583.53 87.2 L583.55 87.7 L583.57 88.2 L583.58 88.7 L583.58 89.2 L583.56 89.7 L583.53 90.2 L583.48 90.7 L583.42 91.2 L583.36 91.7 L583.29 92.2 L583.23 92.7 L583.19 93.2 L583.17 93.7 L583.19 94.2 L583.26 94.7 L583.39 95.2 L583.57 95.7 L583.79 96.2 L584.05 96.7 L584.31 97.2 L584.56 97.7 L584.79 98.2 L584.97 98.7 L585.1 99.2 L585.19 99.7 L585.25 100.2 L585.28 100.7 L585.31 101.2 L585.31 101.7 L585.29 102.2 L585.24 102.7 L585.14 103.2 L585.01 103.7 L584.83 104.2 L584.63 104.7 L584.41 105.2 L584.18 105.7 L583.96 106.2 L583.74 106.7 L583.53 107.2 L583.32 107.7 L583.11 108.2 L582.9 108.7 L582.67 109.2 L582.45 109.7 L582.21 110.2 L581.96 110.7 L581.7 111.2 L581.43 111.7 L581.14 112.2 L580.85 112.7 L580.54 113.2 L580.22 113.7 L579.89 114.2 L579.56 114.7 L579.23 115.2 L578.89 115.7 L578.54 116.2 L578.2 116.7 L577.85 117.2 L577.49 117.7 L577.13 118.2 L576.76 118.7 L576.38 119.2 L576.01 119.7 L575.63 120.2 L575.25 120.7 L574.88 121.2 L574.51 121.7 L574.15 122.2 L573.79 122.7 L573.44 123.2 L573.1 123.7 L572.75 124.2 L572.41 124.7 L572.08 125.2 L571.74 125.7 L571.41 126.2 L571.09 126.7 L570.78 127.2 L570.47 127.7 L570.16 128.2 L569.86 128.7 L569.57 129.2 L569.28 129.7 L569 130.2 L568.73 130.7 L568.49 131.2 L568.26 131.7 L568.07 132.2 L567.89 132.7 L567.74 133.2 L567.61 133.7 L567.5 134.2 L567.41 134.7 L567.35 135.2 L567.31 135.7 L567.27 136.2 L567.25 136.7 L567.23 137.2 L567.21 137.7 L567.19 138.2 L567.18 138.7 L567.16 139.2 L567.15 139.7 L567.14 140.2 L567.13 140.7 L567.12 141.2 L567.12 141.7 L567.11 142.2 L567.11 142.7 L567.1 143.2 L567.1 143.7 L567.1 143.95 L567.1 143.7 L567.1 143.2 L567.09 142.7 L567.09 142.2 L567.08 141.7 L567.08 141.2 L567.07 140.7 L567.06 140.2 L567.05 139.7 L567.04 139.2 L567.02 138.7 L567.01 138.2 L566.99 137.7 L566.97 137.2 L566.95 136.7 L566.93 136.2 L566.89 135.7 L566.85 135.2 L566.79 134.7 L566.7 134.2 L566.59 133.7 L566.46 133.2 L566.31 132.7 L566.13 132.2 L565.94 131.7 L565.71 131.2 L565.47 130.7 L565.2 130.2 L564.92 129.7 L564.63 129.2 L564.34 128.7 L564.04 128.2 L563.73 127.7 L563.42 127.2 L563.11 126.7 L562.79 126.2 L562.46 125.7 L562.12 125.2 L561.79 124.7 L561.45 124.2 L561.1 123.7 L560.76 123.2 L560.41 122.7 L560.05 122.2 L559.69 121.7 L559.32 121.2 L558.95 120.7 L558.57 120.2 L558.19 119.7 L557.82 119.2 L557.44 118.7 L557.07 118.2 L556.71 117.7 L556.35 117.2 L556 116.7 L555.66 116.2 L555.31 115.7 L554.97 115.2 L554.64 114.7 L554.31 114.2 L553.98 113.7 L553.66 113.2 L553.35 112.7 L553.06 112.2 L552.77 111.7 L552.5 111.2 L552.24 110.7 L551.99 110.2 L551.75 109.7 L551.53 109.2 L551.3 108.7 L551.09 108.2 L550.88 107.7 L550.67 107.2 L550.46 106.7 L550.24 106.2 L550.02 105.7 L549.79 105.2 L549.57 104.7 L549.37 104.2 L549.19 103.7 L549.06 103.2 L548.96 102.7 L548.91 102.2 L548.89 101.7 L548.89 101.2 L548.92 100.7 L548.95 100.2 L549.01 99.7 L549.1 99.2 L549.23 98.7 L549.41 98.2 L549.64 97.7 L549.89 97.2 L550.15 96.7 L550.41 96.2 L550.63 95.7 L550.81 95.2 L550.94 94.7 L551.01 94.2 L551.03 93.7 L551.01 93.2 L550.97 92.7 L550.91 92.2 L550.84 91.7 L550.78 91.2 L550.72 90.7 L550.67 90.2 L550.64 89.7 L550.62 89.2 L550.62 88.7 L550.63 88.2 L550.65 87.7 L550.67 87.2 L550.71 86.7 L550.76 86.2 L550.83 85.7 L550.93 85.2 L551.06 84.7 L551.21 84.2 L551.39 83.7 L551.58 83.2 L551.79 82.7 L552.02 82.2 L552.26 81.7 L552.53 81.2 L552.83 80.7 L553.17 80.2 L553.55 79.7 L553.95 79.2 L554.39 78.7 L554.86 78.2 L555.35 77.7 L555.88 77.2 L556.43 76.7 L557.02 76.2 L557.63 75.7 L558.25 75.2 L558.88 74.7 L559.51 74.2 L560.14 73.7 L560.77 73.2 L561.39 72.7 L562.01 72.2 L562.61 71.7 L563.17 71.2 L563.71 70.7 L564.21 70.2 L564.69 69.7 L565.14 69.2 L565.55 68.7 L565.91 68.2 L566.2 67.7 L566.41 67.2 L566.55 66.7 L566.62 66.2 L566.66 65.7 L566.67 65.2 L566.68 64.7 L566.69 64.2 L566.69 63.7 L566.69 63.2 L566.68 62.7 L566.64 62.2 L566.59 61.7 L566.49 61.2 L566.37 60.7 L566.21 60.2 L566.03 59.7 L565.83 59.2 L565.62 58.7 L565.4 58.2 L565.18 57.7 L564.97 57.2 L564.74 56.7 L564.52 56.2 L564.3 55.7 L564.11 55.2 L563.93 54.7 L563.78 54.2 L563.66 53.7 L563.56 53.2 L563.5 52.7 L563.48 52.2 L563.51 51.7 L563.58 51.2 L563.69 50.7 L563.82 50.2 L563.99 49.7 L564.17 49.2 L564.38 48.7 L564.61 48.2 L564.84 47.7 L565.07 47.2 L565.29 46.7 L565.51 46.2 L565.72 45.7 L565.92 45.2 L566.12 44.7 L566.3 44.2 L566.47 43.7 L566.61 43.2 L566.72 42.7 L566.8 42.2 L566.86 41.7 L566.9 41.2 L566.93 40.7 L566.95 40.2 L566.97 39.7 L566.99 39.2 L567 38.7 L567.02 38.2 L567.03 37.7 L567.05 37.2 L567.06 36.7 L567.07 36.2 L567.07 35.7 L567.08 35.2 L567.09 34.7 L567.09 34.2 L567.1 33.7 L567.1 33.2 Z" fill="#CCC2E8" stroke="#000000" stroke-width="1.3" stroke-linejoin="round"/>
<line x1="549.04" y1="99.5" x2="585.16" y2="99.5" stroke="#000000" stroke-width="1.0"/>
<line x1="554" y1="85.5" x2="580.21" y2="85.5" stroke="#000000" stroke-width="1.3" stroke-opacity="0.88" stroke-dasharray="0.9 1.4"/>
<line x1="555" y1="110.5" x2="579.2" y2="110.5" stroke="#000000" stroke-width="1.3" stroke-opacity="0.88" stroke-dasharray="0.9 1.4"/>
<path d="M48.9 242.6 V427.6 H205" fill="none" stroke="#000000" stroke-width="1.4" stroke-linejoin="miter"/>
<line x1="44.8" y1="427.6" x2="48.9" y2="427.6" stroke="#000000" stroke-width="1.4"/>
<text x="43.8" y="430.51" font-size="7" font-weight="700" text-anchor="end">0.0</text>
<line x1="44.8" y1="381.53" x2="48.9" y2="381.53" stroke="#000000" stroke-width="1.4"/>
<text x="43.8" y="384.43" font-size="7" font-weight="700" text-anchor="end">0.1</text>
<line x1="44.8" y1="335.45" x2="48.9" y2="335.45" stroke="#000000" stroke-width="1.4"/>
<text x="43.8" y="338.36" font-size="7" font-weight="700" text-anchor="end">0.2</text>
<line x1="44.8" y1="289.38" x2="48.9" y2="289.38" stroke="#000000" stroke-width="1.4"/>
<text x="43.8" y="292.28" font-size="7" font-weight="700" text-anchor="end">0.3</text>
<line x1="44.8" y1="243.3" x2="48.9" y2="243.3" stroke="#000000" stroke-width="1.4"/>
<text x="43.8" y="246.21" font-size="7" font-weight="700" text-anchor="end">0.4</text>
<text transform="translate(9.5 336) rotate(-90)" font-size="11.6" font-weight="700" text-anchor="middle">Fraction of time</text>
<text x="93.3" y="451.8" font-size="11.5" font-weight="700" text-anchor="middle">state 4</text>
<text x="169.2" y="451.8" font-size="11.5" font-weight="700" text-anchor="middle">state 5</text>
<path d="M73.1 260.7 V252.7 H105.3 V260.7" fill="none" stroke="#000000" stroke-width="1.3"/>
<text x="89.8" y="251.6" font-size="10" font-weight="700" text-anchor="middle" letter-spacing="1.2">*</text>
<path d="M148.9 260.7 V252.7 H181.3 V260.7" fill="none" stroke="#000000" stroke-width="1.3"/>
<text x="165.8" y="251.6" font-size="10" font-weight="700" text-anchor="middle" letter-spacing="1.2">**</text>
<path d="M73.8 293.9 L73.8 294.4 L73.8 294.9 L73.81 295.4 L73.81 295.9 L73.81 296.4 L73.82 296.9 L73.83 297.4 L73.83 297.9 L73.84 298.4 L73.85 298.9 L73.87 299.4 L73.88 299.9 L73.89 300.4 L73.91 300.9 L73.92 301.4 L73.94 301.9 L73.96 302.4 L73.99 302.9 L74.03 303.4 L74.1 303.9 L74.21 304.4 L74.36 304.9 L74.55 305.4 L74.79 305.9 L75.05 306.4 L75.31 306.9 L75.58 307.4 L75.84 307.9 L76.08 308.4 L76.31 308.9 L76.53 309.4 L76.75 309.9 L76.96 310.4 L77.16 310.9 L77.34 311.4 L77.49 311.9 L77.6 312.4 L77.69 312.9 L77.76 313.4 L77.8 313.9 L77.83 314.4 L77.86 314.9 L77.87 315.4 L77.86 315.9 L77.83 316.4 L77.76 316.9 L77.66 317.4 L77.52 317.9 L77.35 318.4 L77.17 318.9 L76.99 319.4 L76.82 319.9 L76.68 320.4 L76.57 320.9 L76.48 321.4 L76.41 321.9 L76.36 322.4 L76.33 322.9 L76.3 323.4 L76.31 323.9 L76.34 324.4 L76.43 324.9 L76.56 325.4 L76.75 325.9 L76.97 326.4 L77.22 326.9 L77.48 327.4 L77.73 327.9 L77.98 328.4 L78.22 328.9 L78.47 329.4 L78.71 329.9 L78.95 330.4 L79.2 330.9 L79.45 331.4 L79.7 331.9 L79.95 332.4 L80.2 332.9 L80.46 333.4 L80.72 333.9 L80.98 334.4 L81.24 334.9 L81.5 335.4 L81.75 335.9 L82 336.4 L82.23 336.9 L82.47 337.4 L82.69 337.9 L82.91 338.4 L83.12 338.9 L83.33 339.4 L83.54 339.9 L83.74 340.4 L83.94 340.9 L84.14 341.4 L84.33 341.9 L84.52 342.4 L84.69 342.9 L84.84 343.4 L84.98 343.9 L85.09 344.4 L85.18 344.9 L85.24 345.4 L85.28 345.9 L85.29 346.4 L85.27 346.9 L85.22 347.4 L85.14 347.9 L85.05 348.4 L84.94 348.9 L84.82 349.4 L84.7 349.9 L84.57 350.4 L84.45 350.9 L84.32 351.4 L84.19 351.9 L84.05 352.4 L83.9 352.9 L83.75 353.4 L83.6 353.9 L83.44 354.4 L83.28 354.9 L83.11 355.4 L82.95 355.9 L82.8 356.4 L82.64 356.9 L82.49 357.4 L82.34 357.9 L82.2 358.4 L82.06 358.9 L81.92 359.4 L81.78 359.9 L81.64 360.4 L81.49 360.9 L81.34 361.4 L81.19 361.9 L81.02 362.4 L80.84 362.9 L80.65 363.4 L80.44 363.9 L80.23 364.4 L80 364.9 L79.77 365.4 L79.53 365.9 L79.29 366.4 L79.06 366.9 L78.82 367.4 L78.59 367.9 L78.35 368.4 L78.11 368.9 L77.87 369.4 L77.64 369.9 L77.43 370.4 L77.24 370.9 L77.09 371.4 L76.97 371.9 L76.89 372.4 L76.82 372.9 L76.78 373.4 L76.74 373.9 L76.71 374.4 L76.69 374.9 L76.67 375.4 L76.67 375.9 L76.68 376.4 L76.7 376.9 L76.73 377.4 L76.77 377.9 L76.81 378.4 L76.84 378.9 L76.85 379.4 L76.84 379.9 L76.8 380.4 L76.73 380.9 L76.62 381.4 L76.49 381.9 L76.33 382.4 L76.15 382.9 L75.97 383.4 L75.77 383.9 L75.56 384.4 L75.34 384.9 L75.11 385.4 L74.89 385.9 L74.68 386.4 L74.5 386.9 L74.35 387.4 L74.24 387.9 L74.15 388.4 L74.08 388.9 L74.03 389.4 L73.99 389.9 L73.97 390.4 L73.94 390.9 L73.92 391.4 L73.9 391.9 L73.89 392.4 L73.87 392.9 L73.86 393.4 L73.85 393.9 L73.83 394.4 L73.83 394.9 L73.82 395.4 L73.81 395.9 L73.81 396.4 L73.8 396.9 L73.8 397.4 L73.8 397.65 L73.8 397.4 L73.8 396.9 L73.79 396.4 L73.79 395.9 L73.78 395.4 L73.77 394.9 L73.77 394.4 L73.75 393.9 L73.74 393.4 L73.73 392.9 L73.71 392.4 L73.7 391.9 L73.68 391.4 L73.66 390.9 L73.63 390.4 L73.61 389.9 L73.57 389.4 L73.52 388.9 L73.45 388.4 L73.36 387.9 L73.25 387.4 L73.1 386.9 L72.92 386.4 L72.71 385.9 L72.49 385.4 L72.26 384.9 L72.04 384.4 L71.83 383.9 L71.63 383.4 L71.45 382.9 L71.27 382.4 L71.11 381.9 L70.98 381.4 L70.87 380.9 L70.8 380.4 L70.76 379.9 L70.75 379.4 L70.76 378.9 L70.79 378.4 L70.83 377.9 L70.87 377.4 L70.9 376.9 L70.92 376.4 L70.93 375.9 L70.93 375.4 L70.91 374.9 L70.89 374.4 L70.86 373.9 L70.82 373.4 L70.78 372.9 L70.71 372.4 L70.63 371.9 L70.51 371.4 L70.36 370.9 L70.17 370.4 L69.96 369.9 L69.73 369.4 L69.49 368.9 L69.25 368.4 L69.01 367.9 L68.78 367.4 L68.54 366.9 L68.31 366.4 L68.07 365.9 L67.83 365.4 L67.6 364.9 L67.37 364.4 L67.16 363.9 L66.95 363.4 L66.76 362.9 L66.58 362.4 L66.41 361.9 L66.26 361.4 L66.11 360.9 L65.96 360.4 L65.82 359.9 L65.68 359.4 L65.54 358.9 L65.4 358.4 L65.26 357.9 L65.11 357.4 L64.96 356.9 L64.8 356.4 L64.65 355.9 L64.49 355.4 L64.32 354.9 L64.16 354.4 L64 353.9 L63.85 353.4 L63.7 352.9 L63.55 352.4 L63.41 351.9 L63.28 351.4 L63.15 350.9 L63.03 350.4 L62.9 349.9 L62.78 349.4 L62.66 348.9 L62.55 348.4 L62.46 347.9 L62.38 347.4 L62.33 346.9 L62.31 346.4 L62.32 345.9 L62.36 345.4 L62.42 344.9 L62.51 344.4 L62.62 343.9 L62.76 343.4 L62.91 342.9 L63.08 342.4 L63.27 341.9 L63.46 341.4 L63.66 340.9 L63.86 340.4 L64.06 339.9 L64.27 339.4 L64.48 338.9 L64.69 338.4 L64.91 337.9 L65.13 337.4 L65.37 336.9 L65.6 336.4 L65.85 335.9 L66.1 335.4 L66.36 334.9 L66.62 334.4 L66.88 333.9 L67.14 333.4 L67.4 332.9 L67.65 332.4 L67.9 331.9 L68.15 331.4 L68.4 330.9 L68.65 330.4 L68.89 329.9 L69.13 329.4 L69.38 328.9 L69.62 328.4 L69.87 327.9 L70.12 327.4 L70.38 326.9 L70.63 326.4 L70.85 325.9 L71.04 325.4 L71.17 324.9 L71.26 324.4 L71.29 323.9 L71.3 323.4 L71.27 322.9 L71.24 322.4 L71.19 321.9 L71.12 321.4 L71.03 320.9 L70.92 320.4 L70.78 319.9 L70.61 319.4 L70.43 318.9 L70.25 318.4 L70.08 317.9 L69.94 317.4 L69.84 316.9 L69.77 316.4 L69.74 315.9 L69.73 315.4 L69.74 314.9 L69.77 314.4 L69.8 313.9 L69.84 313.4 L69.91 312.9 L70 312.4 L70.11 311.9 L70.26 311.4 L70.44 310.9 L70.64 310.4 L70.85 309.9 L71.07 309.4 L71.29 308.9 L71.52 308.4 L71.76 307.9 L72.02 307.4 L72.29 306.9 L72.55 306.4 L72.81 305.9 L73.05 305.4 L73.24 304.9 L73.39 304.4 L73.5 303.9 L73.57 303.4 L73.61 302.9 L73.64 302.4 L73.66 301.9 L73.68 301.4 L73.69 300.9 L73.71 300.4 L73.72 299.9 L73.73 299.4 L73.75 298.9 L73.76 298.4 L73.77 297.9 L73.77 297.4 L73.78 296.9 L73.79 296.4 L73.79 295.9 L73.79 295.4 L73.8 294.9 L73.8 294.4 Z" fill="#C0D2EA" stroke="#000000" stroke-width="1.3" stroke-linejoin="round"/>
<line x1="62.31" y1="346.2" x2="85.29" y2="346.2" stroke="#000000" stroke-width="1.0"/>
<line x1="68" y1="335.5" x2="79.87" y2="335.5" stroke="#000000" stroke-width="1.3" stroke-opacity="0.88" stroke-dasharray="0.9 1.4"/>
<line x1="68" y1="362.5" x2="79.27" y2="362.5" stroke="#000000" stroke-width="1.3" stroke-opacity="0.88" stroke-dasharray="0.9 1.4"/>
<path d="M104.75 283.7 L104.75 284.2 L104.75 284.7 L104.76 285.2 L104.76 285.7 L104.76 286.2 L104.77 286.7 L104.77 287.2 L104.78 287.7 L104.79 288.2 L104.8 288.7 L104.81 289.2 L104.82 289.7 L104.83 290.2 L104.84 290.7 L104.86 291.2 L104.87 291.7 L104.89 292.2 L104.9 292.7 L104.92 293.2 L104.94 293.7 L104.97 294.2 L105.01 294.7 L105.06 295.2 L105.13 295.7 L105.22 296.2 L105.32 296.7 L105.43 297.2 L105.54 297.7 L105.66 298.2 L105.77 298.7 L105.87 299.2 L105.97 299.7 L106.06 300.2 L106.15 300.7 L106.24 301.2 L106.33 301.7 L106.41 302.2 L106.49 302.7 L106.57 303.2 L106.63 303.7 L106.69 304.2 L106.73 304.7 L106.76 305.2 L106.76 305.7 L106.75 306.2 L106.72 306.7 L106.66 307.2 L106.59 307.7 L106.5 308.2 L106.39 308.7 L106.29 309.2 L106.17 309.7 L106.06 310.2 L105.95 310.7 L105.85 311.2 L105.75 311.7 L105.66 312.2 L105.57 312.7 L105.48 313.2 L105.39 313.7 L105.32 314.2 L105.25 314.7 L105.21 315.2 L105.17 315.7 L105.15 316.2 L105.14 316.7 L105.13 317.2 L105.12 317.7 L105.12 318.2 L105.11 318.7 L105.11 319.2 L105.11 319.7 L105.11 320.2 L105.11 320.7 L105.13 321.2 L105.17 321.7 L105.22 322.2 L105.29 322.7 L105.38 323.2 L105.48 323.7 L105.6 324.2 L105.72 324.7 L105.87 325.2 L106.03 325.7 L106.21 326.2 L106.41 326.7 L106.62 327.2 L106.85 327.7 L107.08 328.2 L107.31 328.7 L107.54 329.2 L107.78 329.7 L108.02 330.2 L108.26 330.7 L108.5 331.2 L108.74 331.7 L108.97 332.2 L109.19 332.7 L109.4 333.2 L109.6 333.7 L109.79 334.2 L109.97 334.7 L110.16 335.2 L110.35 335.7 L110.55 336.2 L110.77 336.7 L111 337.2 L111.25 337.7 L111.5 338.2 L111.76 338.7 L112.03 339.2 L112.29 339.7 L112.54 340.2 L112.79 340.7 L113.04 341.2 L113.29 341.7 L113.54 342.2 L113.79 342.7 L114.03 343.2 L114.26 343.7 L114.48 344.2 L114.69 344.7 L114.89 345.2 L115.07 345.7 L115.24 346.2 L115.4 346.7 L115.55 347.2 L115.7 347.7 L115.83 348.2 L115.96 348.7 L116.07 349.2 L116.15 349.7 L116.22 350.2 L116.26 350.7 L116.28 351.2 L116.29 351.7 L116.3 352.2 L116.29 352.7 L116.27 353.2 L116.22 353.7 L116.15 354.2 L116.05 354.7 L115.92 355.2 L115.77 355.7 L115.62 356.2 L115.45 356.7 L115.29 357.2 L115.11 357.7 L114.94 358.2 L114.76 358.7 L114.59 359.2 L114.43 359.7 L114.29 360.2 L114.17 360.7 L114.06 361.2 L113.98 361.7 L113.9 362.2 L113.84 362.7 L113.78 363.2 L113.73 363.7 L113.68 364.2 L113.64 364.7 L113.61 365.2 L113.59 365.7 L113.57 366.2 L113.57 366.7 L113.58 367.2 L113.61 367.7 L113.64 368.2 L113.68 368.7 L113.71 369.2 L113.74 369.7 L113.77 370.2 L113.78 370.7 L113.79 371.2 L113.78 371.7 L113.78 372.2 L113.76 372.7 L113.74 373.2 L113.72 373.7 L113.69 374.2 L113.65 374.7 L113.58 375.2 L113.5 375.7 L113.4 376.2 L113.28 376.7 L113.15 377.2 L113.01 377.7 L112.86 378.2 L112.69 378.7 L112.52 379.2 L112.32 379.7 L112.11 380.2 L111.88 380.7 L111.65 381.2 L111.4 381.7 L111.16 382.2 L110.92 382.7 L110.68 383.2 L110.45 383.7 L110.23 384.2 L110.02 384.7 L109.8 385.2 L109.6 385.7 L109.39 386.2 L109.19 386.7 L108.99 387.2 L108.8 387.7 L108.61 388.2 L108.43 388.7 L108.26 389.2 L108.09 389.7 L107.93 390.2 L107.77 390.7 L107.62 391.2 L107.47 391.7 L107.32 392.2 L107.19 392.7 L107.06 393.2 L106.93 393.7 L106.81 394.2 L106.7 394.7 L106.59 395.2 L106.48 395.7 L106.38 396.2 L106.28 396.7 L106.18 397.2 L106.09 397.7 L106.01 398.2 L105.92 398.7 L105.84 399.2 L105.77 399.7 L105.7 400.2 L105.63 400.7 L105.57 401.2 L105.5 401.7 L105.44 402.2 L105.39 402.7 L105.33 403.2 L105.28 403.7 L105.23 404.2 L105.19 404.7 L105.15 405.2 L105.11 405.7 L105.07 406.2 L105.03 406.7 L105.01 407.2 L104.98 407.7 L104.96 408.2 L104.94 408.7 L104.93 409.2 L104.91 409.7 L104.89 410.2 L104.88 410.7 L104.87 411.2 L104.85 411.7 L104.84 412.2 L104.83 412.7 L104.82 413.2 L104.81 413.7 L104.8 414.2 L104.79 414.7 L104.78 415.2 L104.77 415.7 L104.77 416.2 L104.76 416.7 L104.76 417.2 L104.76 417.7 L104.75 418.2 L104.75 418.7 L104.75 418.95 L104.75 418.7 L104.75 418.2 L104.74 417.7 L104.74 417.2 L104.74 416.7 L104.73 416.2 L104.73 415.7 L104.72 415.2 L104.71 414.7 L104.7 414.2 L104.69 413.7 L104.68 413.2 L104.67 412.7 L104.66 412.2 L104.65 411.7 L104.63 411.2 L104.62 410.7 L104.61 410.2 L104.59 409.7 L104.57 409.2 L104.56 408.7 L104.54 408.2 L104.52 407.7 L104.49 407.2 L104.47 406.7 L104.43 406.2 L104.39 405.7 L104.35 405.2 L104.31 404.7 L104.27 404.2 L104.22 403.7 L104.17 403.2 L104.11 402.7 L104.06 402.2 L104 401.7 L103.93 401.2 L103.87 400.7 L103.8 400.2 L103.73 399.7 L103.66 399.2 L103.58 398.7 L103.49 398.2 L103.41 397.7 L103.32 397.2 L103.22 396.7 L103.12 396.2 L103.02 395.7 L102.91 395.2 L102.8 394.7 L102.69 394.2 L102.57 393.7 L102.44 393.2 L102.31 392.7 L102.18 392.2 L102.03 391.7 L101.88 391.2 L101.73 390.7 L101.57 390.2 L101.41 389.7 L101.24 389.2 L101.07 388.7 L100.89 388.2 L100.7 387.7 L100.51 387.2 L100.31 386.7 L100.11 386.2 L99.9 385.7 L99.7 385.2 L99.48 384.7 L99.27 384.2 L99.05 383.7 L98.82 383.2 L98.58 382.7 L98.34 382.2 L98.1 381.7 L97.85 381.2 L97.62 380.7 L97.39 380.2 L97.18 379.7 L96.98 379.2 L96.81 378.7 L96.64 378.2 L96.49 377.7 L96.35 377.2 L96.22 376.7 L96.1 376.2 L96 375.7 L95.92 375.2 L95.85 374.7 L95.81 374.2 L95.78 373.7 L95.76 373.2 L95.74 372.7 L95.72 372.2 L95.72 371.7 L95.71 371.2 L95.72 370.7 L95.73 370.2 L95.76 369.7 L95.79 369.2 L95.82 368.7 L95.86 368.2 L95.89 367.7 L95.92 367.2 L95.93 366.7 L95.93 366.2 L95.91 365.7 L95.89 365.2 L95.86 364.7 L95.82 364.2 L95.77 363.7 L95.72 363.2 L95.66 362.7 L95.6 362.2 L95.52 361.7 L95.44 361.2 L95.33 360.7 L95.21 360.2 L95.07 359.7 L94.91 359.2 L94.74 358.7 L94.56 358.2 L94.39 357.7 L94.21 357.2 L94.05 356.7 L93.88 356.2 L93.73 355.7 L93.58 355.2 L93.45 354.7 L93.35 354.2 L93.28 353.7 L93.23 353.2 L93.21 352.7 L93.2 352.2 L93.21 351.7 L93.22 351.2 L93.24 350.7 L93.28 350.2 L93.35 349.7 L93.43 349.2 L93.54 348.7 L93.67 348.2 L93.8 347.7 L93.95 347.2 L94.1 346.7 L94.26 346.2 L94.43 345.7 L94.61 345.2 L94.81 344.7 L95.02 344.2 L95.24 343.7 L95.47 343.2 L95.71 342.7 L95.96 342.2 L96.21 341.7 L96.46 341.2 L96.71 340.7 L96.96 340.2 L97.21 339.7 L97.47 339.2 L97.74 338.7 L98 338.2 L98.25 337.7 L98.5 337.2 L98.73 336.7 L98.95 336.2 L99.15 335.7 L99.34 335.2 L99.53 334.7 L99.71 334.2 L99.9 333.7 L100.1 333.2 L100.31 332.7 L100.53 332.2 L100.76 331.7 L101 331.2 L101.24 330.7 L101.48 330.2 L101.72 329.7 L101.96 329.2 L102.19 328.7 L102.42 328.2 L102.65 327.7 L102.88 327.2 L103.09 326.7 L103.29 326.2 L103.47 325.7 L103.63 325.2 L103.78 324.7 L103.9 324.2 L104.02 323.7 L104.12 323.2 L104.21 322.7 L104.28 322.2 L104.33 321.7 L104.37 321.2 L104.39 320.7 L104.39 320.2 L104.39 319.7 L104.39 319.2 L104.39 318.7 L104.38 318.2 L104.38 317.7 L104.37 317.2 L104.36 316.7 L104.35 316.2 L104.33 315.7 L104.29 315.2 L104.25 314.7 L104.18 314.2 L104.11 313.7 L104.02 313.2 L103.93 312.7 L103.84 312.2 L103.75 311.7 L103.65 311.2 L103.55 310.7 L103.44 310.2 L103.33 309.7 L103.21 309.2 L103.11 308.7 L103 308.2 L102.91 307.7 L102.84 307.2 L102.78 306.7 L102.75 306.2 L102.74 305.7 L102.74 305.2 L102.77 304.7 L102.81 304.2 L102.87 303.7 L102.93 303.2 L103.01 302.7 L103.09 302.2 L103.17 301.7 L103.26 301.2 L103.35 300.7 L103.44 300.2 L103.53 299.7 L103.63 299.2 L103.73 298.7 L103.84 298.2 L103.96 297.7 L104.07 297.2 L104.18 296.7 L104.28 296.2 L104.37 295.7 L104.44 295.2 L104.49 294.7 L104.53 294.2 L104.56 293.7 L104.58 293.2 L104.6 292.7 L104.61 292.2 L104.63 291.7 L104.64 291.2 L104.66 290.7 L104.67 290.2 L104.68 289.7 L104.69 289.2 L104.7 288.7 L104.71 288.2 L104.72 287.7 L104.73 287.2 L104.73 286.7 L104.74 286.2 L104.74 285.7 L104.74 285.2 L104.75 284.7 L104.75 284.2 Z" fill="#CCC2E8" stroke="#000000" stroke-width="1.3" stroke-linejoin="round"/>
<line x1="93.88" y1="356.2" x2="115.62" y2="356.2" stroke="#000000" stroke-width="1.0"/>
<line x1="96" y1="346.5" x2="113.05" y2="346.5" stroke="#000000" stroke-width="1.3" stroke-opacity="0.88" stroke-dasharray="0.9 1.4"/>
<line x1="98" y1="374.5" x2="111.76" y2="374.5" stroke="#000000" stroke-width="1.3" stroke-opacity="0.88" stroke-dasharray="0.9 1.4"/>
<path d="M148 307 L148 307.5 L148 308 L148.01 308.5 L148.01 309 L148.02 309.5 L148.02 310 L148.03 310.5 L148.04 311 L148.05 311.5 L148.06 312 L148.08 312.5 L148.09 313 L148.11 313.5 L148.12 314 L148.14 314.5 L148.16 315 L148.18 315.5 L148.21 316 L148.24 316.5 L148.29 317 L148.36 317.5 L148.44 318 L148.54 318.5 L148.66 319 L148.78 319.5 L148.91 320 L149.03 320.5 L149.16 321 L149.27 321.5 L149.38 322 L149.48 322.5 L149.58 323 L149.68 323.5 L149.77 324 L149.87 324.5 L149.96 325 L150.05 325.5 L150.15 326 L150.24 326.5 L150.33 327 L150.43 327.5 L150.52 328 L150.62 328.5 L150.71 329 L150.8 329.5 L150.88 330 L150.97 330.5 L151.06 331 L151.16 331.5 L151.26 332 L151.37 332.5 L151.49 333 L151.62 333.5 L151.77 334 L151.95 334.5 L152.14 335 L152.35 335.5 L152.59 336 L152.85 336.5 L153.13 337 L153.44 337.5 L153.78 338 L154.17 338.5 L154.59 339 L155.04 339.5 L155.49 340 L155.94 340.5 L156.37 341 L156.78 341.5 L157.17 342 L157.55 342.5 L157.89 343 L158.21 343.5 L158.5 344 L158.75 344.5 L158.97 345 L159.17 345.5 L159.34 346 L159.47 346.5 L159.56 347 L159.61 347.5 L159.61 348 L159.56 348.5 L159.47 349 L159.35 349.5 L159.2 350 L159.02 350.5 L158.81 351 L158.56 351.5 L158.29 352 L158.01 352.5 L157.75 353 L157.52 353.5 L157.32 354 L157.15 354.5 L157 355 L156.86 355.5 L156.74 356 L156.62 356.5 L156.51 357 L156.42 357.5 L156.33 358 L156.24 358.5 L156.17 359 L156.09 359.5 L156.01 360 L155.91 360.5 L155.8 361 L155.67 361.5 L155.5 362 L155.31 362.5 L155.09 363 L154.85 363.5 L154.61 364 L154.35 364.5 L154.09 365 L153.82 365.5 L153.54 366 L153.25 366.5 L152.96 367 L152.68 367.5 L152.39 368 L152.12 368.5 L151.84 369 L151.57 369.5 L151.3 370 L151.03 370.5 L150.79 371 L150.58 371.5 L150.42 372 L150.32 372.5 L150.25 373 L150.23 373.5 L150.22 374 L150.23 374.5 L150.24 375 L150.25 375.5 L150.28 376 L150.31 376.5 L150.35 377 L150.42 377.5 L150.51 378 L150.61 378.5 L150.74 379 L150.86 379.5 L150.99 380 L151.1 380.5 L151.21 381 L151.29 381.5 L151.36 382 L151.43 382.5 L151.48 383 L151.53 383.5 L151.57 384 L151.6 384.5 L151.6 385 L151.58 385.5 L151.52 386 L151.42 386.5 L151.28 387 L151.1 387.5 L150.9 388 L150.69 388.5 L150.46 389 L150.22 389.5 L149.97 390 L149.71 390.5 L149.44 391 L149.18 391.5 L148.94 392 L148.74 392.5 L148.57 393 L148.44 393.5 L148.34 394 L148.27 394.5 L148.22 395 L148.18 395.5 L148.16 396 L148.14 396.5 L148.12 397 L148.1 397.5 L148.08 398 L148.07 398.5 L148.06 399 L148.04 399.5 L148.03 400 L148.03 400.5 L148.02 401 L148.01 401.5 L148.01 402 L148 402.5 L148 403 L148 403.5 L148 403 L148 402.5 L147.99 402 L147.99 401.5 L147.98 401 L147.97 400.5 L147.97 400 L147.96 399.5 L147.94 399 L147.93 398.5 L147.92 398 L147.9 397.5 L147.88 397 L147.86 396.5 L147.84 396 L147.82 395.5 L147.78 395 L147.73 394.5 L147.66 394 L147.56 393.5 L147.43 393 L147.26 392.5 L147.06 392 L146.82 391.5 L146.56 391 L146.29 390.5 L146.03 390 L145.78 389.5 L145.54 389 L145.31 388.5 L145.1 388 L144.9 387.5 L144.72 387 L144.58 386.5 L144.48 386 L144.42 385.5 L144.4 385 L144.4 384.5 L144.43 384 L144.47 383.5 L144.52 383 L144.57 382.5 L144.64 382 L144.71 381.5 L144.79 381 L144.9 380.5 L145.01 380 L145.14 379.5 L145.26 379 L145.39 378.5 L145.49 378 L145.58 377.5 L145.65 377 L145.69 376.5 L145.72 376 L145.75 375.5 L145.76 375 L145.77 374.5 L145.78 374 L145.77 373.5 L145.75 373 L145.68 372.5 L145.58 372 L145.42 371.5 L145.21 371 L144.97 370.5 L144.7 370 L144.43 369.5 L144.16 369 L143.88 368.5 L143.61 368 L143.32 367.5 L143.04 367 L142.75 366.5 L142.46 366 L142.18 365.5 L141.91 365 L141.65 364.5 L141.39 364 L141.15 363.5 L140.91 363 L140.69 362.5 L140.5 362 L140.33 361.5 L140.2 361 L140.09 360.5 L139.99 360 L139.91 359.5 L139.83 359 L139.76 358.5 L139.67 358 L139.58 357.5 L139.49 357 L139.38 356.5 L139.26 356 L139.14 355.5 L139 355 L138.85 354.5 L138.68 354 L138.48 353.5 L138.25 353 L137.99 352.5 L137.71 352 L137.44 351.5 L137.19 351 L136.98 350.5 L136.8 350 L136.65 349.5 L136.53 349 L136.44 348.5 L136.39 348 L136.39 347.5 L136.44 347 L136.53 346.5 L136.66 346 L136.83 345.5 L137.03 345 L137.25 344.5 L137.5 344 L137.79 343.5 L138.11 343 L138.45 342.5 L138.83 342 L139.22 341.5 L139.63 341 L140.06 340.5 L140.51 340 L140.96 339.5 L141.41 339 L141.83 338.5 L142.22 338 L142.56 337.5 L142.87 337 L143.15 336.5 L143.41 336 L143.65 335.5 L143.86 335 L144.05 334.5 L144.23 334 L144.38 333.5 L144.51 333 L144.63 332.5 L144.74 332 L144.84 331.5 L144.94 331 L145.03 330.5 L145.12 330 L145.2 329.5 L145.29 329 L145.38 328.5 L145.48 328 L145.57 327.5 L145.67 327 L145.76 326.5 L145.85 326 L145.95 325.5 L146.04 325 L146.13 324.5 L146.23 324 L146.32 323.5 L146.42 323 L146.52 322.5 L146.62 322 L146.73 321.5 L146.84 321 L146.97 320.5 L147.09 320 L147.22 319.5 L147.34 319 L147.46 318.5 L147.56 318 L147.64 317.5 L147.71 317 L147.76 316.5 L147.79 316 L147.82 315.5 L147.84 315 L147.86 314.5 L147.88 314 L147.89 313.5 L147.91 313 L147.92 312.5 L147.94 312 L147.95 311.5 L147.96 311 L147.97 310.5 L147.98 310 L147.98 309.5 L147.99 309 L147.99 308.5 L148 308 L148 307.5 Z" fill="#C0D2EA" stroke="#000000" stroke-width="1.3" stroke-linejoin="round"/>
<line x1="137.02" y1="350.6" x2="158.98" y2="350.6" stroke="#000000" stroke-width="1.0"/>
<line x1="140" y1="344.5" x2="156.44" y2="344.5" stroke="#000000" stroke-width="1.3" stroke-opacity="0.88" stroke-dasharray="0.9 1.4"/>
<line x1="143" y1="364.5" x2="152.7" y2="364.5" stroke="#000000" stroke-width="1.3" stroke-opacity="0.88" stroke-dasharray="0.9 1.4"/>
<path d="M178.9 316.9 L178.9 317.4 L178.9 317.9 L178.91 318.4 L178.91 318.9 L178.92 319.4 L178.92 319.9 L178.93 320.4 L178.94 320.9 L178.95 321.4 L178.96 321.9 L178.97 322.4 L178.98 322.9 L179 323.4 L179.02 323.9 L179.03 324.4 L179.06 324.9 L179.08 325.4 L179.12 325.9 L179.19 326.4 L179.3 326.9 L179.45 327.4 L179.66 327.9 L179.91 328.4 L180.19 328.9 L180.49 329.4 L180.79 329.9 L181.1 330.4 L181.41 330.9 L181.72 331.4 L182.04 331.9 L182.37 332.4 L182.7 332.9 L183.02 333.4 L183.33 333.9 L183.64 334.4 L183.93 334.9 L184.22 335.4 L184.5 335.9 L184.77 336.4 L185.02 336.9 L185.25 337.4 L185.47 337.9 L185.66 338.4 L185.85 338.9 L186.01 339.4 L186.17 339.9 L186.31 340.4 L186.43 340.9 L186.52 341.4 L186.57 341.9 L186.59 342.4 L186.58 342.9 L186.54 343.4 L186.48 343.9 L186.4 344.4 L186.3 344.9 L186.19 345.4 L186.06 345.9 L185.91 346.4 L185.73 346.9 L185.51 347.4 L185.28 347.9 L185.04 348.4 L184.8 348.9 L184.6 349.4 L184.45 349.9 L184.33 350.4 L184.24 350.9 L184.18 351.4 L184.14 351.9 L184.11 352.4 L184.11 352.9 L184.16 353.4 L184.26 353.9 L184.45 354.4 L184.7 354.9 L185.02 355.4 L185.38 355.9 L185.77 356.4 L186.18 356.9 L186.62 357.4 L187.07 357.9 L187.53 358.4 L187.97 358.9 L188.37 359.4 L188.72 359.9 L189.03 360.4 L189.29 360.9 L189.51 361.4 L189.71 361.9 L189.88 362.4 L190.03 362.9 L190.14 363.4 L190.22 363.9 L190.29 364.4 L190.33 364.9 L190.36 365.4 L190.38 365.9 L190.4 366.4 L190.42 366.9 L190.43 367.4 L190.44 367.9 L190.44 368.4 L190.44 368.9 L190.44 369.4 L190.44 369.9 L190.43 370.4 L190.42 370.9 L190.41 371.4 L190.4 371.9 L190.38 372.4 L190.37 372.9 L190.35 373.4 L190.33 373.9 L190.31 374.4 L190.3 374.9 L190.28 375.4 L190.26 375.9 L190.24 376.4 L190.22 376.9 L190.2 377.4 L190.18 377.9 L190.15 378.4 L190.13 378.9 L190.1 379.4 L190.06 379.9 L190.02 380.4 L189.98 380.9 L189.93 381.4 L189.87 381.9 L189.79 382.4 L189.7 382.9 L189.59 383.4 L189.47 383.9 L189.34 384.4 L189.19 384.9 L189.03 385.4 L188.86 385.9 L188.68 386.4 L188.49 386.9 L188.27 387.4 L188.03 387.9 L187.76 388.4 L187.48 388.9 L187.17 389.4 L186.86 389.9 L186.53 390.4 L186.19 390.9 L185.84 391.4 L185.47 391.9 L185.09 392.4 L184.7 392.9 L184.31 393.4 L183.91 393.9 L183.51 394.4 L183.11 394.9 L182.71 395.4 L182.31 395.9 L181.92 396.4 L181.53 396.9 L181.15 397.4 L180.77 397.9 L180.41 398.4 L180.06 398.9 L179.74 399.4 L179.48 399.9 L179.3 400.4 L179.17 400.9 L179.1 401.4 L179.06 401.9 L179.03 402.4 L179.01 402.9 L178.99 403.4 L178.97 403.9 L178.96 404.4 L178.94 404.9 L178.93 405.4 L178.92 405.9 L178.92 406.4 L178.91 406.9 L178.91 407.4 L178.9 407.9 L178.9 408.4 L178.9 407.9 L178.89 407.4 L178.89 406.9 L178.88 406.4 L178.88 405.9 L178.87 405.4 L178.86 404.9 L178.84 404.4 L178.83 403.9 L178.81 403.4 L178.79 402.9 L178.77 402.4 L178.74 401.9 L178.7 401.4 L178.63 400.9 L178.5 400.4 L178.32 399.9 L178.06 399.4 L177.74 398.9 L177.39 398.4 L177.03 397.9 L176.65 397.4 L176.27 396.9 L175.88 396.4 L175.49 395.9 L175.09 395.4 L174.69 394.9 L174.29 394.4 L173.89 393.9 L173.49 393.4 L173.1 392.9 L172.71 392.4 L172.33 391.9 L171.96 391.4 L171.61 390.9 L171.27 390.4 L170.94 389.9 L170.63 389.4 L170.32 388.9 L170.04 388.4 L169.77 387.9 L169.53 387.4 L169.31 386.9 L169.12 386.4 L168.94 385.9 L168.77 385.4 L168.61 384.9 L168.46 384.4 L168.33 383.9 L168.21 383.4 L168.1 382.9 L168.01 382.4 L167.93 381.9 L167.87 381.4 L167.82 380.9 L167.78 380.4 L167.74 379.9 L167.7 379.4 L167.67 378.9 L167.65 378.4 L167.62 377.9 L167.6 377.4 L167.58 376.9 L167.56 376.4 L167.54 375.9 L167.52 375.4 L167.5 374.9 L167.49 374.4 L167.47 373.9 L167.45 373.4 L167.43 372.9 L167.42 372.4 L167.4 371.9 L167.39 371.4 L167.38 370.9 L167.37 370.4 L167.36 369.9 L167.36 369.4 L167.36 368.9 L167.36 368.4 L167.36 367.9 L167.37 367.4 L167.38 366.9 L167.4 366.4 L167.42 365.9 L167.44 365.4 L167.47 364.9 L167.51 364.4 L167.58 363.9 L167.66 363.4 L167.77 362.9 L167.92 362.4 L168.09 361.9 L168.29 361.4 L168.51 360.9 L168.77 360.4 L169.08 359.9 L169.43 359.4 L169.83 358.9 L170.27 358.4 L170.73 357.9 L171.18 357.4 L171.62 356.9 L172.03 356.4 L172.42 355.9 L172.78 355.4 L173.1 354.9 L173.35 354.4 L173.54 353.9 L173.64 353.4 L173.69 352.9 L173.69 352.4 L173.66 351.9 L173.62 351.4 L173.56 350.9 L173.47 350.4 L173.35 349.9 L173.2 349.4 L173 348.9 L172.76 348.4 L172.52 347.9 L172.29 347.4 L172.07 346.9 L171.89 346.4 L171.74 345.9 L171.61 345.4 L171.5 344.9 L171.4 344.4 L171.32 343.9 L171.26 343.4 L171.22 342.9 L171.21 342.4 L171.23 341.9 L171.28 341.4 L171.37 340.9 L171.49 340.4 L171.63 339.9 L171.79 339.4 L171.95 338.9 L172.14 338.4 L172.33 337.9 L172.55 337.4 L172.78 336.9 L173.03 336.4 L173.3 335.9 L173.58 335.4 L173.87 334.9 L174.16 334.4 L174.47 333.9 L174.78 333.4 L175.1 332.9 L175.43 332.4 L175.76 331.9 L176.08 331.4 L176.39 330.9 L176.7 330.4 L177.01 329.9 L177.31 329.4 L177.61 328.9 L177.89 328.4 L178.14 327.9 L178.35 327.4 L178.5 326.9 L178.61 326.4 L178.68 325.9 L178.72 325.4 L178.74 324.9 L178.77 324.4 L178.78 323.9 L178.8 323.4 L178.82 322.9 L178.83 322.4 L178.84 321.9 L178.85 321.4 L178.86 320.9 L178.87 320.4 L178.88 319.9 L178.88 319.4 L178.89 318.9 L178.89 318.4 L178.9 317.9 L178.9 317.4 Z" fill="#CCC2E8" stroke="#000000" stroke-width="1.3" stroke-linejoin="round"/>
<line x1="167.36" y1="368.9" x2="190.44" y2="368.9" stroke="#000000" stroke-width="1.0"/>
<line x1="175" y1="353.5" x2="182.88" y2="353.5" stroke="#000000" stroke-width="1.3" stroke-opacity="0.88" stroke-dasharray="0.9 1.4"/>
<line x1="170" y1="381.5" x2="187.66" y2="381.5" stroke="#000000" stroke-width="1.3" stroke-opacity="0.88" stroke-dasharray="0.9 1.4"/>
<path d="M271.4 242.6 V427.6 H423.7" fill="none" stroke="#000000" stroke-width="1.4" stroke-linejoin="miter"/>
<line x1="267.3" y1="427.6" x2="271.4" y2="427.6" stroke="#000000" stroke-width="1.4"/>
<text x="266.3" y="430.51" font-size="7" font-weight="700" text-anchor="end">0.0</text>
<line x1="267.3" y1="390.74" x2="271.4" y2="390.74" stroke="#000000" stroke-width="1.4"/>
<text x="266.3" y="393.65" font-size="7" font-weight="700" text-anchor="end">0.2</text>
<line x1="267.3" y1="353.88" x2="271.4" y2="353.88" stroke="#000000" stroke-width="1.4"/>
<text x="266.3" y="356.79" font-size="7" font-weight="700" text-anchor="end">0.4</text>
<line x1="267.3" y1="317.02" x2="271.4" y2="317.02" stroke="#000000" stroke-width="1.4"/>
<text x="266.3" y="319.93" font-size="7" font-weight="700" text-anchor="end">0.6</text>
<line x1="267.3" y1="280.16" x2="271.4" y2="280.16" stroke="#000000" stroke-width="1.4"/>
<text x="266.3" y="283.07" font-size="7" font-weight="700" text-anchor="end">0.8</text>
<line x1="267.3" y1="243.3" x2="271.4" y2="243.3" stroke="#000000" stroke-width="1.4"/>
<text x="266.3" y="246.21" font-size="7" font-weight="700" text-anchor="end">1.0</text>
<text transform="translate(231.5 335.8) rotate(-90)" font-size="11.6" font-weight="700" text-anchor="middle">Resilience</text>
<text x="315.8" y="451.8" font-size="11.5" font-weight="700" text-anchor="middle">state 4</text>
<text x="391.8" y="451.8" font-size="11.5" font-weight="700" text-anchor="middle">state 5</text>
<path d="M295.4 260.7 V252.7 H327.2 V260.7" fill="none" stroke="#000000" stroke-width="1.3"/>
<text x="311.9" y="251.6" font-size="10" font-weight="700" text-anchor="middle" letter-spacing="1.2">*</text>
<path d="M371.5 260.7 V252.7 H403.6 V260.7" fill="none" stroke="#000000" stroke-width="1.3"/>
<text x="388.1" y="251.6" font-size="10" font-weight="700" text-anchor="middle" letter-spacing="1.2">*</text>
<path d="M296.1 274.9 L296.1 275.4 L296.11 275.9 L296.11 276.4 L296.12 276.9 L296.13 277.4 L296.14 277.9 L296.16 278.4 L296.17 278.9 L296.19 279.4 L296.21 279.9 L296.23 280.4 L296.25 280.9 L296.27 281.4 L296.3 281.9 L296.33 282.4 L296.36 282.9 L296.41 283.4 L296.46 283.9 L296.53 284.4 L296.6 284.9 L296.68 285.4 L296.78 285.9 L296.89 286.4 L297.02 286.9 L297.16 287.4 L297.33 287.9 L297.52 288.4 L297.74 288.9 L297.99 289.4 L298.27 289.9 L298.57 290.4 L298.9 290.9 L299.25 291.4 L299.63 291.9 L300.03 292.4 L300.45 292.9 L300.89 293.4 L301.35 293.9 L301.82 294.4 L302.31 294.9 L302.8 295.4 L303.3 295.9 L303.79 296.4 L304.25 296.9 L304.69 297.4 L305.11 297.9 L305.49 298.4 L305.85 298.9 L306.17 299.4 L306.45 299.9 L306.68 300.4 L306.88 300.9 L307.04 301.4 L307.18 301.9 L307.28 302.4 L307.34 302.9 L307.34 303.4 L307.29 303.9 L307.18 304.4 L307.02 304.9 L306.79 305.4 L306.51 305.9 L306.15 306.4 L305.73 306.9 L305.25 307.4 L304.71 307.9 L304.14 308.4 L303.56 308.9 L302.99 309.4 L302.42 309.9 L301.88 310.4 L301.36 310.9 L300.89 311.4 L300.48 311.9 L300.14 312.4 L299.87 312.9 L299.67 313.4 L299.5 313.9 L299.37 314.4 L299.26 314.9 L299.17 315.4 L299.1 315.9 L299.03 316.4 L298.98 316.9 L298.93 317.4 L298.88 317.9 L298.82 318.4 L298.77 318.9 L298.71 319.4 L298.66 319.9 L298.59 320.4 L298.52 320.9 L298.45 321.4 L298.36 321.9 L298.26 322.4 L298.15 322.9 L298.02 323.4 L297.89 323.9 L297.75 324.4 L297.62 324.9 L297.48 325.4 L297.35 325.9 L297.22 326.4 L297.09 326.9 L296.96 327.4 L296.84 327.9 L296.73 328.4 L296.65 328.9 L296.58 329.4 L296.54 329.9 L296.52 330.4 L296.51 330.9 L296.5 331.4 L296.5 331.9 L296.5 332.4 L296.51 332.9 L296.52 333.4 L296.55 333.9 L296.59 334.4 L296.67 334.9 L296.76 335.4 L296.86 335.9 L296.97 336.4 L297.07 336.9 L297.16 337.4 L297.24 337.9 L297.3 338.4 L297.33 338.9 L297.33 339.4 L297.3 339.9 L297.25 340.4 L297.16 340.9 L297.07 341.4 L296.96 341.9 L296.84 342.4 L296.72 342.9 L296.62 343.4 L296.53 343.9 L296.45 344.4 L296.4 344.9 L296.36 345.4 L296.33 345.9 L296.31 346.4 L296.31 346.9 L296.3 347.4 L296.3 347.9 L296.3 348.4 L296.3 348.9 L296.3 349.4 L296.3 349.9 L296.3 350.4 L296.3 350.9 L296.3 351.4 L296.3 351.9 L296.3 352.4 L296.3 352.9 L296.3 353.4 L296.3 353.9 L296.3 354.4 L296.3 354.9 L296.3 355.4 L296.3 355.9 L296.3 356.4 L296.3 356.9 L296.3 357.4 L296.3 357.9 L296.3 358.4 L296.3 358.9 L296.3 359.4 L296.3 359.9 L296.3 360.4 L296.3 360.9 L296.3 361.4 L296.3 361.9 L296.3 362.4 L296.3 362.9 L296.3 363.4 L296.3 363.9 L296.3 364.4 L296.31 364.9 L296.34 365.4 L296.39 365.9 L296.46 366.4 L296.56 366.9 L296.68 367.4 L296.81 367.9 L296.94 368.4 L297.05 368.9 L297.16 369.4 L297.25 369.9 L297.3 370.4 L297.33 370.9 L297.32 371.4 L297.27 371.9 L297.2 372.4 L297.11 372.9 L297 373.4 L296.89 373.9 L296.77 374.4 L296.66 374.9 L296.56 375.4 L296.49 375.9 L296.43 376.4 L296.38 376.9 L296.35 377.4 L296.32 377.9 L296.29 378.4 L296.27 378.9 L296.25 379.4 L296.22 379.9 L296.2 380.4 L296.19 380.9 L296.17 381.4 L296.15 381.9 L296.14 382.4 L296.13 382.9 L296.12 383.4 L296.11 383.9 L296.1 384.4 L296.1 384.65 L296.1 384.4 L296.09 383.9 L296.08 383.4 L296.07 382.9 L296.06 382.4 L296.05 381.9 L296.03 381.4 L296.01 380.9 L296 380.4 L295.98 379.9 L295.95 379.4 L295.93 378.9 L295.91 378.4 L295.88 377.9 L295.85 377.4 L295.82 376.9 L295.77 376.4 L295.71 375.9 L295.64 375.4 L295.54 374.9 L295.43 374.4 L295.31 373.9 L295.2 373.4 L295.09 372.9 L295 372.4 L294.93 371.9 L294.88 371.4 L294.87 370.9 L294.9 370.4 L294.95 369.9 L295.04 369.4 L295.15 368.9 L295.26 368.4 L295.39 367.9 L295.52 367.4 L295.64 366.9 L295.74 366.4 L295.81 365.9 L295.86 365.4 L295.89 364.9 L295.9 364.4 L295.9 363.9 L295.9 363.4 L295.9 362.9 L295.9 362.4 L295.9 361.9 L295.9 361.4 L295.9 360.9 L295.9 360.4 L295.9 359.9 L295.9 359.4 L295.9 358.9 L295.9 358.4 L295.9 357.9 L295.9 357.4 L295.9 356.9 L295.9 356.4 L295.9 355.9 L295.9 355.4 L295.9 354.9 L295.9 354.4 L295.9 353.9 L295.9 353.4 L295.9 352.9 L295.9 352.4 L295.9 351.9 L295.9 351.4 L295.9 350.9 L295.9 350.4 L295.9 349.9 L295.9 349.4 L295.9 348.9 L295.9 348.4 L295.9 347.9 L295.9 347.4 L295.89 346.9 L295.89 346.4 L295.87 345.9 L295.84 345.4 L295.8 344.9 L295.75 344.4 L295.67 343.9 L295.58 343.4 L295.48 342.9 L295.36 342.4 L295.24 341.9 L295.13 341.4 L295.04 340.9 L294.95 340.4 L294.9 339.9 L294.87 339.4 L294.87 338.9 L294.9 338.4 L294.96 337.9 L295.04 337.4 L295.13 336.9 L295.23 336.4 L295.34 335.9 L295.44 335.4 L295.53 334.9 L295.61 334.4 L295.65 333.9 L295.68 333.4 L295.69 332.9 L295.7 332.4 L295.7 331.9 L295.7 331.4 L295.69 330.9 L295.68 330.4 L295.66 329.9 L295.62 329.4 L295.55 328.9 L295.47 328.4 L295.36 327.9 L295.24 327.4 L295.11 326.9 L294.98 326.4 L294.85 325.9 L294.72 325.4 L294.58 324.9 L294.45 324.4 L294.31 323.9 L294.18 323.4 L294.05 322.9 L293.94 322.4 L293.84 321.9 L293.75 321.4 L293.68 320.9 L293.61 320.4 L293.54 319.9 L293.49 319.4 L293.43 318.9 L293.38 318.4 L293.32 317.9 L293.27 317.4 L293.22 316.9 L293.17 316.4 L293.1 315.9 L293.03 315.4 L292.94 314.9 L292.83 314.4 L292.7 313.9 L292.53 313.4 L292.33 312.9 L292.06 312.4 L291.72 311.9 L291.31 311.4 L290.84 310.9 L290.32 310.4 L289.78 309.9 L289.21 309.4 L288.64 308.9 L288.06 308.4 L287.49 307.9 L286.95 307.4 L286.47 306.9 L286.05 306.4 L285.69 305.9 L285.41 305.4 L285.18 304.9 L285.02 304.4 L284.91 303.9 L284.86 303.4 L284.86 302.9 L284.92 302.4 L285.02 301.9 L285.16 301.4 L285.32 300.9 L285.52 300.4 L285.75 299.9 L286.03 299.4 L286.35 298.9 L286.71 298.4 L287.09 297.9 L287.51 297.4 L287.95 296.9 L288.41 296.4 L288.9 295.9 L289.4 295.4 L289.89 294.9 L290.38 294.4 L290.85 293.9 L291.31 293.4 L291.75 292.9 L292.17 292.4 L292.57 291.9 L292.95 291.4 L293.3 290.9 L293.63 290.4 L293.93 289.9 L294.21 289.4 L294.46 288.9 L294.68 288.4 L294.87 287.9 L295.04 287.4 L295.18 286.9 L295.31 286.4 L295.42 285.9 L295.52 285.4 L295.6 284.9 L295.67 284.4 L295.74 283.9 L295.79 283.4 L295.84 282.9 L295.87 282.4 L295.9 281.9 L295.93 281.4 L295.95 280.9 L295.97 280.4 L295.99 279.9 L296.01 279.4 L296.03 278.9 L296.04 278.4 L296.06 277.9 L296.07 277.4 L296.08 276.9 L296.09 276.4 L296.09 275.9 L296.1 275.4 Z" fill="#C0D2EA" stroke="#000000" stroke-width="1.3" stroke-linejoin="round"/>
<line x1="285.23" y1="305" x2="306.97" y2="305" stroke="#000000" stroke-width="1.0"/>
<line x1="288" y1="300.5" x2="304.48" y2="300.5" stroke="#000000" stroke-width="1.3" stroke-opacity="0.88" stroke-dasharray="0.9 1.4"/>
<line x1="294" y1="317.5" x2="298.04" y2="317.5" stroke="#000000" stroke-width="1.3" stroke-opacity="0.88" stroke-dasharray="0.9 1.4"/>
<path d="M327.1 270.4 L327.1 270.9 L327.11 271.4 L327.11 271.9 L327.12 272.4 L327.13 272.9 L327.15 273.4 L327.16 273.9 L327.18 274.4 L327.2 274.9 L327.22 275.4 L327.25 275.9 L327.28 276.4 L327.32 276.9 L327.37 277.4 L327.44 277.9 L327.54 278.4 L327.67 278.9 L327.81 279.4 L327.96 279.9 L328.11 280.4 L328.26 280.9 L328.4 281.4 L328.55 281.9 L328.68 282.4 L328.81 282.9 L328.91 283.4 L328.98 283.9 L329.01 284.4 L329 284.9 L328.94 285.4 L328.85 285.9 L328.73 286.4 L328.6 286.9 L328.46 287.4 L328.31 287.9 L328.15 288.4 L328 288.9 L327.84 289.4 L327.71 289.9 L327.6 290.4 L327.53 290.9 L327.49 291.4 L327.47 291.9 L327.48 292.4 L327.5 292.9 L327.53 293.4 L327.58 293.9 L327.67 294.4 L327.79 294.9 L327.95 295.4 L328.16 295.9 L328.41 296.4 L328.7 296.9 L329.01 297.4 L329.33 297.9 L329.65 298.4 L329.97 298.9 L330.29 299.4 L330.61 299.9 L330.93 300.4 L331.25 300.9 L331.57 301.4 L331.88 301.9 L332.2 302.4 L332.51 302.9 L332.82 303.4 L333.13 303.9 L333.43 304.4 L333.72 304.9 L334.01 305.4 L334.27 305.9 L334.53 306.4 L334.77 306.9 L334.99 307.4 L335.2 307.9 L335.41 308.4 L335.6 308.9 L335.78 309.4 L335.95 309.9 L336.1 310.4 L336.24 310.9 L336.37 311.4 L336.5 311.9 L336.61 312.4 L336.72 312.9 L336.83 313.4 L336.93 313.9 L337.03 314.4 L337.14 314.9 L337.25 315.4 L337.36 315.9 L337.49 316.4 L337.62 316.9 L337.75 317.4 L337.88 317.9 L338 318.4 L338.1 318.9 L338.18 319.4 L338.23 319.9 L338.26 320.4 L338.26 320.9 L338.25 321.4 L338.22 321.9 L338.18 322.4 L338.14 322.9 L338.08 323.4 L338 323.9 L337.91 324.4 L337.8 324.9 L337.66 325.4 L337.49 325.9 L337.31 326.4 L337.11 326.9 L336.89 327.4 L336.66 327.9 L336.39 328.4 L336.1 328.9 L335.78 329.4 L335.43 329.9 L335.06 330.4 L334.68 330.9 L334.3 331.4 L333.93 331.9 L333.56 332.4 L333.2 332.9 L332.84 333.4 L332.48 333.9 L332.14 334.4 L331.79 334.9 L331.46 335.4 L331.14 335.9 L330.83 336.4 L330.54 336.9 L330.25 337.4 L329.98 337.9 L329.72 338.4 L329.47 338.9 L329.23 339.4 L329.01 339.9 L328.8 340.4 L328.61 340.9 L328.42 341.4 L328.24 341.9 L328.08 342.4 L327.93 342.9 L327.81 343.4 L327.72 343.9 L327.65 344.4 L327.6 344.9 L327.57 345.4 L327.55 345.9 L327.53 346.4 L327.52 346.9 L327.52 347.4 L327.52 347.9 L327.53 348.4 L327.56 348.9 L327.61 349.4 L327.68 349.9 L327.77 350.4 L327.87 350.9 L327.98 351.4 L328.09 351.9 L328.2 352.4 L328.31 352.9 L328.42 353.4 L328.52 353.9 L328.63 354.4 L328.74 354.9 L328.83 355.4 L328.91 355.9 L328.96 356.4 L328.98 356.9 L328.96 357.4 L328.9 357.9 L328.81 358.4 L328.7 358.9 L328.56 359.4 L328.42 359.9 L328.27 360.4 L328.13 360.9 L327.99 361.4 L327.85 361.9 L327.72 362.4 L327.6 362.9 L327.49 363.4 L327.41 363.9 L327.35 364.4 L327.3 364.9 L327.27 365.4 L327.24 365.9 L327.22 366.4 L327.2 366.9 L327.18 367.4 L327.17 367.9 L327.15 368.4 L327.14 368.9 L327.13 369.4 L327.12 369.9 L327.11 370.4 L327.11 370.9 L327.1 371.4 L327.1 371.9 L327.1 372.15 L327.1 371.9 L327.1 371.4 L327.09 370.9 L327.09 370.4 L327.08 369.9 L327.07 369.4 L327.06 368.9 L327.05 368.4 L327.03 367.9 L327.02 367.4 L327 366.9 L326.98 366.4 L326.96 365.9 L326.93 365.4 L326.9 364.9 L326.85 364.4 L326.79 363.9 L326.71 363.4 L326.6 362.9 L326.48 362.4 L326.35 361.9 L326.21 361.4 L326.07 360.9 L325.93 360.4 L325.78 359.9 L325.64 359.4 L325.5 358.9 L325.39 358.4 L325.3 357.9 L325.24 357.4 L325.22 356.9 L325.24 356.4 L325.29 355.9 L325.37 355.4 L325.46 354.9 L325.57 354.4 L325.68 353.9 L325.78 353.4 L325.89 352.9 L326 352.4 L326.11 351.9 L326.22 351.4 L326.33 350.9 L326.43 350.4 L326.52 349.9 L326.59 349.4 L326.64 348.9 L326.67 348.4 L326.68 347.9 L326.68 347.4 L326.68 346.9 L326.67 346.4 L326.65 345.9 L326.63 345.4 L326.6 344.9 L326.55 344.4 L326.48 343.9 L326.39 343.4 L326.27 342.9 L326.12 342.4 L325.96 341.9 L325.78 341.4 L325.59 340.9 L325.4 340.4 L325.19 339.9 L324.97 339.4 L324.73 338.9 L324.48 338.4 L324.22 337.9 L323.95 337.4 L323.66 336.9 L323.37 336.4 L323.06 335.9 L322.74 335.4 L322.41 334.9 L322.06 334.4 L321.72 333.9 L321.36 333.4 L321 332.9 L320.64 332.4 L320.27 331.9 L319.9 331.4 L319.52 330.9 L319.14 330.4 L318.77 329.9 L318.42 329.4 L318.1 328.9 L317.81 328.4 L317.54 327.9 L317.31 327.4 L317.09 326.9 L316.89 326.4 L316.71 325.9 L316.54 325.4 L316.4 324.9 L316.29 324.4 L316.2 323.9 L316.12 323.4 L316.06 322.9 L316.02 322.4 L315.98 321.9 L315.95 321.4 L315.94 320.9 L315.94 320.4 L315.97 319.9 L316.02 319.4 L316.1 318.9 L316.2 318.4 L316.32 317.9 L316.45 317.4 L316.58 316.9 L316.71 316.4 L316.84 315.9 L316.95 315.4 L317.06 314.9 L317.17 314.4 L317.27 313.9 L317.37 313.4 L317.48 312.9 L317.59 312.4 L317.7 311.9 L317.83 311.4 L317.96 310.9 L318.1 310.4 L318.25 309.9 L318.42 309.4 L318.6 308.9 L318.79 308.4 L319 307.9 L319.21 307.4 L319.43 306.9 L319.67 306.4 L319.93 305.9 L320.19 305.4 L320.48 304.9 L320.77 304.4 L321.07 303.9 L321.38 303.4 L321.69 302.9 L322 302.4 L322.32 301.9 L322.63 301.4 L322.95 300.9 L323.27 300.4 L323.59 299.9 L323.91 299.4 L324.23 298.9 L324.55 298.4 L324.87 297.9 L325.19 297.4 L325.5 296.9 L325.79 296.4 L326.04 295.9 L326.25 295.4 L326.41 294.9 L326.53 294.4 L326.62 293.9 L326.67 293.4 L326.7 292.9 L326.72 292.4 L326.73 291.9 L326.71 291.4 L326.67 290.9 L326.6 290.4 L326.49 289.9 L326.36 289.4 L326.2 288.9 L326.05 288.4 L325.89 287.9 L325.74 287.4 L325.6 286.9 L325.47 286.4 L325.35 285.9 L325.26 285.4 L325.2 284.9 L325.19 284.4 L325.22 283.9 L325.29 283.4 L325.39 282.9 L325.52 282.4 L325.65 281.9 L325.8 281.4 L325.94 280.9 L326.09 280.4 L326.24 279.9 L326.39 279.4 L326.53 278.9 L326.66 278.4 L326.76 277.9 L326.83 277.4 L326.88 276.9 L326.92 276.4 L326.95 275.9 L326.98 275.4 L327 274.9 L327.02 274.4 L327.04 273.9 L327.05 273.4 L327.07 272.9 L327.08 272.4 L327.09 271.9 L327.09 271.4 L327.1 270.9 Z" fill="#CCC2E8" stroke="#000000" stroke-width="1.3" stroke-linejoin="round"/>
<line x1="315.94" y1="320.5" x2="338.26" y2="320.5" stroke="#000000" stroke-width="1.0"/>
<line x1="320" y1="310.5" x2="334.12" y2="310.5" stroke="#000000" stroke-width="1.3" stroke-opacity="0.88" stroke-dasharray="0.9 1.4"/>
<line x1="320" y1="328.5" x2="334.37" y2="328.5" stroke="#000000" stroke-width="1.3" stroke-opacity="0.88" stroke-dasharray="0.9 1.4"/>
<path d="M370.4 281.2 L370.4 281.7 L370.41 282.2 L370.41 282.7 L370.42 283.2 L370.43 283.7 L370.44 284.2 L370.45 284.7 L370.47 285.2 L370.48 285.7 L370.5 286.2 L370.52 286.7 L370.55 287.2 L370.59 287.7 L370.64 288.2 L370.72 288.7 L370.85 289.2 L371.01 289.7 L371.23 290.2 L371.49 290.7 L371.8 291.2 L372.16 291.7 L372.57 292.2 L373.03 292.7 L373.51 293.2 L374 293.7 L374.48 294.2 L374.95 294.7 L375.41 295.2 L375.87 295.7 L376.31 296.2 L376.75 296.7 L377.17 297.2 L377.58 297.7 L377.98 298.2 L378.36 298.7 L378.73 299.2 L379.09 299.7 L379.44 300.2 L379.78 300.7 L380.11 301.2 L380.42 301.7 L380.71 302.2 L380.98 302.7 L381.23 303.2 L381.47 303.7 L381.67 304.2 L381.84 304.7 L381.95 305.2 L381.98 305.7 L381.91 306.2 L381.76 306.7 L381.54 307.2 L381.27 307.7 L380.95 308.2 L380.61 308.7 L380.24 309.2 L379.85 309.7 L379.47 310.2 L379.14 310.7 L378.86 311.2 L378.64 311.7 L378.48 312.2 L378.36 312.7 L378.27 313.2 L378.19 313.7 L378.13 314.2 L378.08 314.7 L378.03 315.2 L378 315.7 L377.97 316.2 L377.95 316.7 L377.93 317.2 L377.92 317.7 L377.91 318.2 L377.89 318.7 L377.87 319.2 L377.84 319.7 L377.79 320.2 L377.71 320.7 L377.59 321.2 L377.41 321.7 L377.17 322.2 L376.9 322.7 L376.6 323.2 L376.29 323.7 L375.96 324.2 L375.61 324.7 L375.26 325.2 L374.9 325.7 L374.54 326.2 L374.17 326.7 L373.81 327.2 L373.45 327.7 L373.1 328.2 L372.77 328.7 L372.47 329.2 L372.2 329.7 L371.97 330.2 L371.77 330.7 L371.61 331.2 L371.49 331.7 L371.42 332.2 L371.4 332.7 L371.43 333.2 L371.48 333.7 L371.55 334.2 L371.61 334.7 L371.65 335.2 L371.67 335.7 L371.67 336.2 L371.66 336.7 L371.63 337.2 L371.61 337.7 L371.58 338.2 L371.54 338.7 L371.5 339.2 L371.46 339.7 L371.41 340.2 L371.36 340.7 L371.3 341.2 L371.22 341.7 L371.14 342.2 L371.05 342.7 L370.97 343.2 L370.9 343.7 L370.84 344.2 L370.8 344.7 L370.77 345.2 L370.76 345.7 L370.76 346.2 L370.77 346.7 L370.78 347.2 L370.79 347.7 L370.82 348.2 L370.85 348.7 L370.91 349.2 L370.99 349.7 L371.08 350.2 L371.19 350.7 L371.3 351.2 L371.41 351.7 L371.5 352.2 L371.58 352.7 L371.63 353.2 L371.66 353.7 L371.66 354.2 L371.64 354.7 L371.61 355.2 L371.56 355.7 L371.5 356.2 L371.44 356.7 L371.37 357.2 L371.29 357.7 L371.22 358.2 L371.14 358.7 L371.05 359.2 L370.96 359.7 L370.86 360.2 L370.78 360.7 L370.7 361.2 L370.64 361.7 L370.6 362.2 L370.57 362.7 L370.54 363.2 L370.52 363.7 L370.5 364.2 L370.48 364.7 L370.46 365.2 L370.45 365.7 L370.44 366.2 L370.43 366.7 L370.42 367.2 L370.41 367.7 L370.41 368.2 L370.4 368.7 L370.4 368.95 L370.4 368.7 L370.39 368.2 L370.39 367.7 L370.38 367.2 L370.37 366.7 L370.36 366.2 L370.35 365.7 L370.34 365.2 L370.32 364.7 L370.3 364.2 L370.28 363.7 L370.26 363.2 L370.23 362.7 L370.2 362.2 L370.16 361.7 L370.1 361.2 L370.02 360.7 L369.94 360.2 L369.84 359.7 L369.75 359.2 L369.66 358.7 L369.58 358.2 L369.51 357.7 L369.43 357.2 L369.36 356.7 L369.3 356.2 L369.24 355.7 L369.19 355.2 L369.16 354.7 L369.14 354.2 L369.14 353.7 L369.17 353.2 L369.22 352.7 L369.3 352.2 L369.39 351.7 L369.5 351.2 L369.61 350.7 L369.72 350.2 L369.81 349.7 L369.89 349.2 L369.95 348.7 L369.98 348.2 L370.01 347.7 L370.02 347.2 L370.03 346.7 L370.04 346.2 L370.04 345.7 L370.03 345.2 L370 344.7 L369.96 344.2 L369.9 343.7 L369.83 343.2 L369.75 342.7 L369.66 342.2 L369.58 341.7 L369.5 341.2 L369.44 340.7 L369.39 340.2 L369.34 339.7 L369.3 339.2 L369.26 338.7 L369.22 338.2 L369.19 337.7 L369.17 337.2 L369.14 336.7 L369.13 336.2 L369.13 335.7 L369.15 335.2 L369.19 334.7 L369.25 334.2 L369.32 333.7 L369.37 333.2 L369.4 332.7 L369.38 332.2 L369.31 331.7 L369.19 331.2 L369.03 330.7 L368.83 330.2 L368.6 329.7 L368.33 329.2 L368.03 328.7 L367.7 328.2 L367.35 327.7 L366.99 327.2 L366.63 326.7 L366.26 326.2 L365.9 325.7 L365.54 325.2 L365.19 324.7 L364.84 324.2 L364.51 323.7 L364.2 323.2 L363.9 322.7 L363.63 322.2 L363.39 321.7 L363.21 321.2 L363.09 320.7 L363.01 320.2 L362.96 319.7 L362.93 319.2 L362.91 318.7 L362.89 318.2 L362.88 317.7 L362.87 317.2 L362.85 316.7 L362.83 316.2 L362.8 315.7 L362.77 315.2 L362.72 314.7 L362.67 314.2 L362.61 313.7 L362.53 313.2 L362.44 312.7 L362.32 312.2 L362.16 311.7 L361.94 311.2 L361.66 310.7 L361.33 310.2 L360.95 309.7 L360.56 309.2 L360.19 308.7 L359.85 308.2 L359.53 307.7 L359.26 307.2 L359.04 306.7 L358.89 306.2 L358.82 305.7 L358.85 305.2 L358.96 304.7 L359.13 304.2 L359.33 303.7 L359.57 303.2 L359.82 302.7 L360.09 302.2 L360.38 301.7 L360.69 301.2 L361.02 300.7 L361.36 300.2 L361.71 299.7 L362.07 299.2 L362.44 298.7 L362.82 298.2 L363.22 297.7 L363.63 297.2 L364.05 296.7 L364.49 296.2 L364.93 295.7 L365.39 295.2 L365.85 294.7 L366.32 294.2 L366.8 293.7 L367.29 293.2 L367.77 292.7 L368.23 292.2 L368.64 291.7 L369 291.2 L369.31 290.7 L369.57 290.2 L369.79 289.7 L369.95 289.2 L370.08 288.7 L370.16 288.2 L370.21 287.7 L370.25 287.2 L370.28 286.7 L370.3 286.2 L370.32 285.7 L370.33 285.2 L370.35 284.7 L370.36 284.2 L370.37 283.7 L370.38 283.2 L370.39 282.7 L370.39 282.2 L370.4 281.7 Z" fill="#C0D2EA" stroke="#000000" stroke-width="1.3" stroke-linejoin="round"/>
<line x1="359.92" y1="308.3" x2="380.88" y2="308.3" stroke="#000000" stroke-width="1.0"/>
<line x1="362" y1="303.5" x2="379.03" y2="303.5" stroke="#000000" stroke-width="1.3" stroke-opacity="0.88" stroke-dasharray="0.9 1.4"/>
<line x1="365" y1="321.5" x2="376.01" y2="321.5" stroke="#000000" stroke-width="1.3" stroke-opacity="0.88" stroke-dasharray="0.9 1.4"/>
<path d="M401.5 272.9 L401.5 273.4 L401.51 273.9 L401.51 274.4 L401.52 274.9 L401.53 275.4 L401.54 275.9 L401.55 276.4 L401.56 276.9 L401.58 277.4 L401.6 277.9 L401.62 278.4 L401.64 278.9 L401.66 279.4 L401.69 279.9 L401.73 280.4 L401.77 280.9 L401.84 281.4 L401.92 281.9 L402.01 282.4 L402.12 282.9 L402.23 283.4 L402.35 283.9 L402.47 284.4 L402.6 284.9 L402.72 285.4 L402.85 285.9 L402.98 286.4 L403.11 286.9 L403.25 287.4 L403.4 287.9 L403.55 288.4 L403.71 288.9 L403.87 289.4 L404.04 289.9 L404.22 290.4 L404.41 290.9 L404.61 291.4 L404.83 291.9 L405.08 292.4 L405.37 292.9 L405.72 293.4 L406.12 293.9 L406.58 294.4 L407.07 294.9 L407.57 295.4 L408.08 295.9 L408.56 296.4 L409.02 296.9 L409.47 297.4 L409.89 297.9 L410.29 298.4 L410.64 298.9 L410.96 299.4 L411.24 299.9 L411.48 300.4 L411.7 300.9 L411.89 301.4 L412.06 301.9 L412.22 302.4 L412.35 302.9 L412.47 303.4 L412.57 303.9 L412.66 304.4 L412.74 304.9 L412.81 305.4 L412.86 305.9 L412.89 306.4 L412.9 306.9 L412.88 307.4 L412.82 307.9 L412.74 308.4 L412.64 308.9 L412.52 309.4 L412.39 309.9 L412.26 310.4 L412.12 310.9 L411.98 311.4 L411.84 311.9 L411.7 312.4 L411.56 312.9 L411.45 313.4 L411.37 313.9 L411.33 314.4 L411.34 314.9 L411.38 315.4 L411.46 315.9 L411.56 316.4 L411.68 316.9 L411.8 317.4 L411.93 317.9 L412.06 318.4 L412.2 318.9 L412.34 319.4 L412.48 319.9 L412.59 320.4 L412.67 320.9 L412.7 321.4 L412.69 321.9 L412.62 322.4 L412.5 322.9 L412.35 323.4 L412.17 323.9 L411.97 324.4 L411.76 324.9 L411.53 325.4 L411.3 325.9 L411.04 326.4 L410.76 326.9 L410.47 327.4 L410.17 327.9 L409.85 328.4 L409.54 328.9 L409.22 329.4 L408.9 329.9 L408.58 330.4 L408.25 330.9 L407.92 331.4 L407.59 331.9 L407.26 332.4 L406.92 332.9 L406.59 333.4 L406.27 333.9 L405.95 334.4 L405.64 334.9 L405.33 335.4 L405.03 335.9 L404.73 336.4 L404.43 336.9 L404.14 337.4 L403.87 337.9 L403.61 338.4 L403.38 338.9 L403.18 339.4 L403 339.9 L402.84 340.4 L402.7 340.9 L402.58 341.4 L402.48 341.9 L402.41 342.4 L402.38 342.9 L402.38 343.4 L402.43 343.9 L402.5 344.4 L402.6 344.9 L402.71 345.4 L402.83 345.9 L402.95 346.4 L403.06 346.9 L403.18 347.4 L403.3 347.9 L403.41 348.4 L403.53 348.9 L403.64 349.4 L403.73 349.9 L403.81 350.4 L403.87 350.9 L403.9 351.4 L403.9 351.9 L403.88 352.4 L403.83 352.9 L403.76 353.4 L403.68 353.9 L403.58 354.4 L403.47 354.9 L403.35 355.4 L403.22 355.9 L403.08 356.4 L402.92 356.9 L402.75 357.4 L402.57 357.9 L402.4 358.4 L402.25 358.9 L402.11 359.4 L401.99 359.9 L401.9 360.4 L401.82 360.9 L401.76 361.4 L401.72 361.9 L401.68 362.4 L401.66 362.9 L401.63 363.4 L401.61 363.9 L401.59 364.4 L401.57 364.9 L401.56 365.4 L401.54 365.9 L401.53 366.4 L401.52 366.9 L401.51 367.4 L401.51 367.9 L401.5 368.4 L401.5 368.9 L401.5 368.4 L401.49 367.9 L401.49 367.4 L401.48 366.9 L401.47 366.4 L401.46 365.9 L401.44 365.4 L401.43 364.9 L401.41 364.4 L401.39 363.9 L401.37 363.4 L401.34 362.9 L401.32 362.4 L401.28 361.9 L401.24 361.4 L401.18 360.9 L401.1 360.4 L401.01 359.9 L400.89 359.4 L400.75 358.9 L400.6 358.4 L400.43 357.9 L400.25 357.4 L400.08 356.9 L399.92 356.4 L399.78 355.9 L399.65 355.4 L399.53 354.9 L399.42 354.4 L399.32 353.9 L399.24 353.4 L399.17 352.9 L399.12 352.4 L399.1 351.9 L399.1 351.4 L399.13 350.9 L399.19 350.4 L399.27 349.9 L399.36 349.4 L399.47 348.9 L399.59 348.4 L399.7 347.9 L399.82 347.4 L399.94 346.9 L400.05 346.4 L400.17 345.9 L400.29 345.4 L400.4 344.9 L400.5 344.4 L400.57 343.9 L400.62 343.4 L400.62 342.9 L400.59 342.4 L400.52 341.9 L400.42 341.4 L400.3 340.9 L400.16 340.4 L400 339.9 L399.82 339.4 L399.62 338.9 L399.39 338.4 L399.13 337.9 L398.86 337.4 L398.57 336.9 L398.27 336.4 L397.97 335.9 L397.67 335.4 L397.36 334.9 L397.05 334.4 L396.73 333.9 L396.41 333.4 L396.08 332.9 L395.74 332.4 L395.41 331.9 L395.08 331.4 L394.75 330.9 L394.42 330.4 L394.1 329.9 L393.78 329.4 L393.46 328.9 L393.15 328.4 L392.83 327.9 L392.53 327.4 L392.24 326.9 L391.96 326.4 L391.7 325.9 L391.47 325.4 L391.24 324.9 L391.03 324.4 L390.83 323.9 L390.65 323.4 L390.5 322.9 L390.38 322.4 L390.31 321.9 L390.3 321.4 L390.33 320.9 L390.41 320.4 L390.52 319.9 L390.66 319.4 L390.8 318.9 L390.94 318.4 L391.07 317.9 L391.2 317.4 L391.32 316.9 L391.44 316.4 L391.54 315.9 L391.62 315.4 L391.66 314.9 L391.67 314.4 L391.63 313.9 L391.55 313.4 L391.44 312.9 L391.3 312.4 L391.16 311.9 L391.02 311.4 L390.88 310.9 L390.74 310.4 L390.61 309.9 L390.48 309.4 L390.36 308.9 L390.26 308.4 L390.18 307.9 L390.12 307.4 L390.1 306.9 L390.11 306.4 L390.14 305.9 L390.19 305.4 L390.26 304.9 L390.34 304.4 L390.43 303.9 L390.53 303.4 L390.65 302.9 L390.78 302.4 L390.94 301.9 L391.11 301.4 L391.3 300.9 L391.52 300.4 L391.76 299.9 L392.04 299.4 L392.36 298.9 L392.71 298.4 L393.11 297.9 L393.53 297.4 L393.98 296.9 L394.44 296.4 L394.92 295.9 L395.43 295.4 L395.93 294.9 L396.42 294.4 L396.88 293.9 L397.28 293.4 L397.63 292.9 L397.92 292.4 L398.17 291.9 L398.39 291.4 L398.59 290.9 L398.78 290.4 L398.96 289.9 L399.13 289.4 L399.29 288.9 L399.45 288.4 L399.6 287.9 L399.75 287.4 L399.89 286.9 L400.02 286.4 L400.15 285.9 L400.28 285.4 L400.4 284.9 L400.53 284.4 L400.65 283.9 L400.77 283.4 L400.88 282.9 L400.99 282.4 L401.08 281.9 L401.16 281.4 L401.23 280.9 L401.27 280.4 L401.31 279.9 L401.34 279.4 L401.36 278.9 L401.38 278.4 L401.4 277.9 L401.42 277.4 L401.44 276.9 L401.45 276.4 L401.46 275.9 L401.47 275.4 L401.48 274.9 L401.49 274.4 L401.49 273.9 L401.5 273.4 Z" fill="#CCC2E8" stroke="#000000" stroke-width="1.3" stroke-linejoin="round"/>
<line x1="391.67" y1="314.5" x2="411.33" y2="314.5" stroke="#000000" stroke-width="1.0"/>
<line x1="393" y1="303.5" x2="410.27" y2="303.5" stroke="#000000" stroke-width="1.3" stroke-opacity="0.88" stroke-dasharray="0.9 1.4"/>
<line x1="394" y1="325.5" x2="409.47" y2="325.5" stroke="#000000" stroke-width="1.3" stroke-opacity="0.88" stroke-dasharray="0.9 1.4"/>
<path d="M471.5 256 V429.4 H589.8" fill="none" stroke="#000000" stroke-width="1.4" stroke-linejoin="miter"/>
<line x1="467.4" y1="429.4" x2="471.5" y2="429.4" stroke="#000000" stroke-width="1.4"/>
<text x="466.4" y="432.16" font-size="6.6" font-weight="700" text-anchor="end">0</text>
<line x1="467.4" y1="394.86" x2="471.5" y2="394.86" stroke="#000000" stroke-width="1.4"/>
<text x="466.4" y="397.62" font-size="6.6" font-weight="700" text-anchor="end">1</text>
<line x1="467.4" y1="360.32" x2="471.5" y2="360.32" stroke="#000000" stroke-width="1.4"/>
<text x="466.4" y="363.08" font-size="6.6" font-weight="700" text-anchor="end">2</text>
<line x1="467.4" y1="325.78" x2="471.5" y2="325.78" stroke="#000000" stroke-width="1.4"/>
<text x="466.4" y="328.54" font-size="6.6" font-weight="700" text-anchor="end">3</text>
<line x1="467.4" y1="291.24" x2="471.5" y2="291.24" stroke="#000000" stroke-width="1.4"/>
<text x="466.4" y="294" font-size="6.6" font-weight="700" text-anchor="end">4</text>
<line x1="467.4" y1="256.7" x2="471.5" y2="256.7" stroke="#000000" stroke-width="1.4"/>
<text x="466.4" y="259.46" font-size="6.6" font-weight="700" text-anchor="end">5</text>
<text transform="translate(439.9 343.6) rotate(-90)" font-size="10.9" font-weight="700" text-anchor="middle">Persistence</text>
<text x="537.1" y="452.2" font-size="10.7" font-weight="700" text-anchor="middle">state 4</text>
<path d="M515 255.7 V247.8 H545.1 V255.7" fill="none" stroke="#000000" stroke-width="1.3"/>
<text x="530.6" y="246.7" font-size="10" font-weight="700" text-anchor="middle" letter-spacing="1.2">*</text>
<path d="M507.4 266.7 L507.4 267.2 L507.41 267.7 L507.41 268.2 L507.42 268.7 L507.43 269.2 L507.45 269.7 L507.46 270.2 L507.48 270.7 L507.5 271.2 L507.52 271.7 L507.54 272.2 L507.57 272.7 L507.6 273.2 L507.63 273.7 L507.66 274.2 L507.7 274.7 L507.73 275.2 L507.78 275.7 L507.84 276.2 L507.91 276.7 L508.02 277.2 L508.17 277.7 L508.35 278.2 L508.55 278.7 L508.77 279.2 L508.98 279.7 L509.18 280.2 L509.35 280.7 L509.5 281.2 L509.62 281.7 L509.73 282.2 L509.83 282.7 L509.91 283.2 L509.99 283.7 L510.05 284.2 L510.08 284.7 L510.1 285.2 L510.08 285.7 L510.04 286.2 L509.97 286.7 L509.87 287.2 L509.76 287.7 L509.65 288.2 L509.54 288.7 L509.45 289.2 L509.38 289.7 L509.34 290.2 L509.32 290.7 L509.32 291.2 L509.33 291.7 L509.35 292.2 L509.37 292.7 L509.4 293.2 L509.45 293.7 L509.51 294.2 L509.58 294.7 L509.66 295.2 L509.76 295.7 L509.85 296.2 L509.95 296.7 L510.06 297.2 L510.16 297.7 L510.28 298.2 L510.4 298.7 L510.52 299.2 L510.64 299.7 L510.78 300.2 L510.91 300.7 L511.05 301.2 L511.2 301.7 L511.35 302.2 L511.52 302.7 L511.69 303.2 L511.87 303.7 L512.07 304.2 L512.28 304.7 L512.5 305.2 L512.74 305.7 L512.99 306.2 L513.26 306.7 L513.55 307.2 L513.86 307.7 L514.21 308.2 L514.59 308.7 L515.01 309.2 L515.47 309.7 L515.97 310.2 L516.49 310.7 L517.02 311.2 L517.55 311.7 L518.07 312.2 L518.58 312.7 L519.09 313.2 L519.58 313.7 L520.07 314.2 L520.56 314.7 L521.03 315.2 L521.47 315.7 L521.89 316.2 L522.28 316.7 L522.65 317.2 L522.98 317.7 L523.3 318.2 L523.61 318.7 L523.89 319.2 L524.14 319.7 L524.36 320.2 L524.54 320.7 L524.67 321.2 L524.77 321.7 L524.84 322.2 L524.88 322.7 L524.89 323.2 L524.86 323.7 L524.77 324.2 L524.63 324.7 L524.44 325.2 L524.2 325.7 L523.94 326.2 L523.67 326.7 L523.39 327.2 L523.09 327.7 L522.79 328.2 L522.48 328.7 L522.16 329.2 L521.84 329.7 L521.53 330.2 L521.24 330.7 L520.97 331.2 L520.71 331.7 L520.47 332.2 L520.25 332.7 L520.04 333.2 L519.84 333.7 L519.64 334.2 L519.45 334.7 L519.27 335.2 L519.08 335.7 L518.9 336.2 L518.72 336.7 L518.53 337.2 L518.34 337.7 L518.15 338.2 L517.97 338.7 L517.78 339.2 L517.59 339.7 L517.4 340.2 L517.22 340.7 L517.03 341.2 L516.84 341.7 L516.65 342.2 L516.45 342.7 L516.26 343.2 L516.05 343.7 L515.85 344.2 L515.63 344.7 L515.41 345.2 L515.19 345.7 L514.97 346.2 L514.74 346.7 L514.51 347.2 L514.29 347.7 L514.06 348.2 L513.84 348.7 L513.62 349.2 L513.41 349.7 L513.2 350.2 L512.99 350.7 L512.78 351.2 L512.58 351.7 L512.37 352.2 L512.17 352.7 L511.98 353.2 L511.79 353.7 L511.61 354.2 L511.44 354.7 L511.28 355.2 L511.13 355.7 L510.99 356.2 L510.85 356.7 L510.72 357.2 L510.6 357.7 L510.48 358.2 L510.36 358.7 L510.25 359.2 L510.15 359.7 L510.05 360.2 L509.96 360.7 L509.88 361.2 L509.8 361.7 L509.73 362.2 L509.66 362.7 L509.6 363.2 L509.54 363.7 L509.49 364.2 L509.43 364.7 L509.38 365.2 L509.33 365.7 L509.28 366.2 L509.23 366.7 L509.17 367.2 L509.11 367.7 L509.05 368.2 L508.99 368.7 L508.92 369.2 L508.85 369.7 L508.79 370.2 L508.73 370.7 L508.69 371.2 L508.65 371.7 L508.64 372.2 L508.64 372.7 L508.65 373.2 L508.69 373.7 L508.74 374.2 L508.8 374.7 L508.87 375.2 L508.94 375.7 L509 376.2 L509.06 376.7 L509.12 377.2 L509.17 377.7 L509.21 378.2 L509.26 378.7 L509.3 379.2 L509.34 379.7 L509.37 380.2 L509.4 380.7 L509.42 381.2 L509.42 381.7 L509.41 382.2 L509.39 382.7 L509.34 383.2 L509.27 383.7 L509.18 384.2 L509.09 384.7 L508.98 385.2 L508.86 385.7 L508.74 386.2 L508.6 386.7 L508.46 387.2 L508.3 387.7 L508.13 388.2 L507.98 388.7 L507.84 389.2 L507.74 389.7 L507.66 390.2 L507.61 390.7 L507.58 391.2 L507.55 391.7 L507.53 392.2 L507.52 392.7 L507.5 393.2 L507.48 393.7 L507.47 394.2 L507.46 394.7 L507.45 395.2 L507.44 395.7 L507.43 396.2 L507.42 396.7 L507.41 397.2 L507.41 397.7 L507.41 398.2 L507.4 398.7 L507.4 399.2 L507.4 399.7 L507.4 399.2 L507.4 398.7 L507.39 398.2 L507.39 397.7 L507.39 397.2 L507.38 396.7 L507.37 396.2 L507.36 395.7 L507.35 395.2 L507.34 394.7 L507.33 394.2 L507.32 393.7 L507.3 393.2 L507.28 392.7 L507.27 392.2 L507.25 391.7 L507.22 391.2 L507.19 390.7 L507.14 390.2 L507.06 389.7 L506.96 389.2 L506.82 388.7 L506.67 388.2 L506.5 387.7 L506.34 387.2 L506.2 386.7 L506.06 386.2 L505.94 385.7 L505.82 385.2 L505.71 384.7 L505.62 384.2 L505.53 383.7 L505.46 383.2 L505.41 382.7 L505.39 382.2 L505.38 381.7 L505.38 381.2 L505.4 380.7 L505.43 380.2 L505.46 379.7 L505.5 379.2 L505.54 378.7 L505.59 378.2 L505.63 377.7 L505.68 377.2 L505.74 376.7 L505.8 376.2 L505.86 375.7 L505.93 375.2 L506 374.7 L506.06 374.2 L506.11 373.7 L506.15 373.2 L506.16 372.7 L506.16 372.2 L506.15 371.7 L506.11 371.2 L506.07 370.7 L506.01 370.2 L505.95 369.7 L505.88 369.2 L505.81 368.7 L505.75 368.2 L505.69 367.7 L505.63 367.2 L505.57 366.7 L505.52 366.2 L505.47 365.7 L505.42 365.2 L505.37 364.7 L505.31 364.2 L505.26 363.7 L505.2 363.2 L505.14 362.7 L505.07 362.2 L505 361.7 L504.92 361.2 L504.84 360.7 L504.75 360.2 L504.65 359.7 L504.55 359.2 L504.44 358.7 L504.32 358.2 L504.2 357.7 L504.08 357.2 L503.95 356.7 L503.81 356.2 L503.67 355.7 L503.52 355.2 L503.36 354.7 L503.19 354.2 L503.01 353.7 L502.82 353.2 L502.63 352.7 L502.43 352.2 L502.22 351.7 L502.02 351.2 L501.81 350.7 L501.6 350.2 L501.39 349.7 L501.18 349.2 L500.96 348.7 L500.74 348.2 L500.51 347.7 L500.29 347.2 L500.06 346.7 L499.83 346.2 L499.61 345.7 L499.39 345.2 L499.17 344.7 L498.95 344.2 L498.75 343.7 L498.54 343.2 L498.35 342.7 L498.15 342.2 L497.96 341.7 L497.77 341.2 L497.58 340.7 L497.4 340.2 L497.21 339.7 L497.02 339.2 L496.83 338.7 L496.65 338.2 L496.46 337.7 L496.27 337.2 L496.08 336.7 L495.9 336.2 L495.72 335.7 L495.53 335.2 L495.35 334.7 L495.16 334.2 L494.96 333.7 L494.76 333.2 L494.55 332.7 L494.33 332.2 L494.09 331.7 L493.83 331.2 L493.56 330.7 L493.27 330.2 L492.96 329.7 L492.64 329.2 L492.32 328.7 L492.01 328.2 L491.71 327.7 L491.41 327.2 L491.13 326.7 L490.86 326.2 L490.6 325.7 L490.36 325.2 L490.17 324.7 L490.03 324.2 L489.94 323.7 L489.91 323.2 L489.92 322.7 L489.96 322.2 L490.03 321.7 L490.13 321.2 L490.26 320.7 L490.44 320.2 L490.66 319.7 L490.91 319.2 L491.19 318.7 L491.5 318.2 L491.82 317.7 L492.15 317.2 L492.52 316.7 L492.91 316.2 L493.33 315.7 L493.77 315.2 L494.24 314.7 L494.73 314.2 L495.22 313.7 L495.71 313.2 L496.22 312.7 L496.73 312.2 L497.25 311.7 L497.78 311.2 L498.31 310.7 L498.83 310.2 L499.33 309.7 L499.79 309.2 L500.21 308.7 L500.59 308.2 L500.94 307.7 L501.25 307.2 L501.54 306.7 L501.81 306.2 L502.06 305.7 L502.3 305.2 L502.52 304.7 L502.73 304.2 L502.93 303.7 L503.11 303.2 L503.28 302.7 L503.45 302.2 L503.6 301.7 L503.75 301.2 L503.89 300.7 L504.02 300.2 L504.16 299.7 L504.28 299.2 L504.4 298.7 L504.52 298.2 L504.64 297.7 L504.74 297.2 L504.85 296.7 L504.95 296.2 L505.04 295.7 L505.14 295.2 L505.22 294.7 L505.29 294.2 L505.35 293.7 L505.4 293.2 L505.43 292.7 L505.45 292.2 L505.47 291.7 L505.48 291.2 L505.48 290.7 L505.46 290.2 L505.42 289.7 L505.35 289.2 L505.26 288.7 L505.15 288.2 L505.04 287.7 L504.93 287.2 L504.83 286.7 L504.76 286.2 L504.72 285.7 L504.7 285.2 L504.72 284.7 L504.75 284.2 L504.81 283.7 L504.89 283.2 L504.97 282.7 L505.07 282.2 L505.18 281.7 L505.3 281.2 L505.45 280.7 L505.62 280.2 L505.82 279.7 L506.03 279.2 L506.25 278.7 L506.45 278.2 L506.63 277.7 L506.78 277.2 L506.89 276.7 L506.96 276.2 L507.02 275.7 L507.07 275.2 L507.1 274.7 L507.14 274.2 L507.17 273.7 L507.2 273.2 L507.23 272.7 L507.26 272.2 L507.28 271.7 L507.3 271.2 L507.32 270.7 L507.34 270.2 L507.35 269.7 L507.37 269.2 L507.38 268.7 L507.39 268.2 L507.39 267.7 L507.4 267.2 Z" fill="#C0D2EA" stroke="#000000" stroke-width="1.3" stroke-linejoin="round"/>
<line x1="490.7" y1="325.9" x2="524.1" y2="325.9" stroke="#000000" stroke-width="1.0"/>
<line x1="495" y1="317.5" x2="519.82" y2="317.5" stroke="#000000" stroke-width="1.3" stroke-opacity="0.88" stroke-dasharray="0.9 1.4"/>
<line x1="500" y1="343.5" x2="514.35" y2="343.5" stroke="#000000" stroke-width="1.3" stroke-opacity="0.88" stroke-dasharray="0.9 1.4"/>
<path d="M552.7 271.1 L552.7 271.6 L552.71 272.1 L552.71 272.6 L552.72 273.1 L552.72 273.6 L552.73 274.1 L552.75 274.6 L552.76 275.1 L552.77 275.6 L552.79 276.1 L552.81 276.6 L552.83 277.1 L552.86 277.6 L552.89 278.1 L552.94 278.6 L553.02 279.1 L553.12 279.6 L553.27 280.1 L553.46 280.6 L553.67 281.1 L553.9 281.6 L554.15 282.1 L554.41 282.6 L554.67 283.1 L554.94 283.6 L555.19 284.1 L555.42 284.6 L555.61 285.1 L555.76 285.6 L555.87 286.1 L555.93 286.6 L555.93 287.1 L555.86 287.6 L555.74 288.1 L555.57 288.6 L555.35 289.1 L555.1 289.6 L554.83 290.1 L554.56 290.6 L554.3 291.1 L554.05 291.6 L553.82 292.1 L553.62 292.6 L553.45 293.1 L553.31 293.6 L553.21 294.1 L553.13 294.6 L553.08 295.1 L553.04 295.6 L553.01 296.1 L552.99 296.6 L552.97 297.1 L552.96 297.6 L552.95 298.1 L552.95 298.6 L552.95 299.1 L552.95 299.6 L552.95 300.1 L552.95 300.6 L552.95 301.1 L552.95 301.6 L552.95 302.1 L552.95 302.6 L552.95 303.1 L552.95 303.6 L552.95 304.1 L552.95 304.6 L552.95 305.1 L552.95 305.6 L552.95 306.1 L552.95 306.6 L552.95 307.1 L552.95 307.6 L552.95 308.1 L552.96 308.6 L552.97 309.1 L553 309.6 L553.06 310.1 L553.14 310.6 L553.25 311.1 L553.38 311.6 L553.53 312.1 L553.68 312.6 L553.84 313.1 L554 313.6 L554.17 314.1 L554.35 314.6 L554.53 315.1 L554.71 315.6 L554.89 316.1 L555.06 316.6 L555.22 317.1 L555.37 317.6 L555.51 318.1 L555.65 318.6 L555.77 319.1 L555.89 319.6 L556.01 320.1 L556.12 320.6 L556.24 321.1 L556.35 321.6 L556.46 322.1 L556.57 322.6 L556.68 323.1 L556.79 323.6 L556.89 324.1 L557 324.6 L557.11 325.1 L557.23 325.6 L557.37 326.1 L557.53 326.6 L557.72 327.1 L557.96 327.6 L558.25 328.1 L558.59 328.6 L558.97 329.1 L559.37 329.6 L559.76 330.1 L560.15 330.6 L560.52 331.1 L560.87 331.6 L561.2 332.1 L561.52 332.6 L561.84 333.1 L562.14 333.6 L562.44 334.1 L562.72 334.6 L562.99 335.1 L563.25 335.6 L563.49 336.1 L563.71 336.6 L563.92 337.1 L564.12 337.6 L564.31 338.1 L564.5 338.6 L564.69 339.1 L564.89 339.6 L565.1 340.1 L565.32 340.6 L565.56 341.1 L565.83 341.6 L566.11 342.1 L566.41 342.6 L566.73 343.1 L567.05 343.6 L567.38 344.1 L567.7 344.6 L568.02 345.1 L568.33 345.6 L568.63 346.1 L568.91 346.6 L569.16 347.1 L569.36 347.6 L569.52 348.1 L569.64 348.6 L569.73 349.1 L569.79 349.6 L569.83 350.1 L569.82 350.6 L569.78 351.1 L569.68 351.6 L569.53 352.1 L569.33 352.6 L569.09 353.1 L568.82 353.6 L568.51 354.1 L568.18 354.6 L567.83 355.1 L567.45 355.6 L567.02 356.1 L566.55 356.6 L566.02 357.1 L565.43 357.6 L564.81 358.1 L564.15 358.6 L563.48 359.1 L562.82 359.6 L562.16 360.1 L561.53 360.6 L560.9 361.1 L560.28 361.6 L559.68 362.1 L559.09 362.6 L558.54 363.1 L558.05 363.6 L557.63 364.1 L557.28 364.6 L556.99 365.1 L556.75 365.6 L556.54 366.1 L556.35 366.6 L556.19 367.1 L556.05 367.6 L555.93 368.1 L555.83 368.6 L555.76 369.1 L555.7 369.6 L555.65 370.1 L555.61 370.6 L555.57 371.1 L555.54 371.6 L555.51 372.1 L555.47 372.6 L555.43 373.1 L555.38 373.6 L555.32 374.1 L555.24 374.6 L555.15 375.1 L555.04 375.6 L554.92 376.1 L554.79 376.6 L554.65 377.1 L554.5 377.6 L554.34 378.1 L554.17 378.6 L553.98 379.1 L553.78 379.6 L553.58 380.1 L553.39 380.6 L553.22 381.1 L553.08 381.6 L552.99 382.1 L552.92 382.6 L552.88 383.1 L552.85 383.6 L552.82 384.1 L552.8 384.6 L552.78 385.1 L552.77 385.6 L552.75 386.1 L552.74 386.6 L552.73 387.1 L552.72 387.6 L552.71 388.1 L552.71 388.6 L552.7 389.1 L552.7 389.6 L552.7 389.85 L552.7 389.6 L552.7 389.1 L552.69 388.6 L552.69 388.1 L552.68 387.6 L552.67 387.1 L552.66 386.6 L552.65 386.1 L552.63 385.6 L552.62 385.1 L552.6 384.6 L552.58 384.1 L552.55 383.6 L552.52 383.1 L552.48 382.6 L552.41 382.1 L552.32 381.6 L552.18 381.1 L552.01 380.6 L551.82 380.1 L551.62 379.6 L551.42 379.1 L551.23 378.6 L551.06 378.1 L550.9 377.6 L550.75 377.1 L550.61 376.6 L550.48 376.1 L550.36 375.6 L550.25 375.1 L550.16 374.6 L550.08 374.1 L550.02 373.6 L549.97 373.1 L549.93 372.6 L549.89 372.1 L549.86 371.6 L549.83 371.1 L549.79 370.6 L549.75 370.1 L549.7 369.6 L549.64 369.1 L549.57 368.6 L549.47 368.1 L549.35 367.6 L549.21 367.1 L549.05 366.6 L548.86 366.1 L548.65 365.6 L548.41 365.1 L548.12 364.6 L547.77 364.1 L547.35 363.6 L546.86 363.1 L546.31 362.6 L545.72 362.1 L545.12 361.6 L544.5 361.1 L543.87 360.6 L543.24 360.1 L542.58 359.6 L541.92 359.1 L541.25 358.6 L540.59 358.1 L539.97 357.6 L539.38 357.1 L538.85 356.6 L538.38 356.1 L537.95 355.6 L537.57 355.1 L537.22 354.6 L536.89 354.1 L536.58 353.6 L536.31 353.1 L536.07 352.6 L535.87 352.1 L535.72 351.6 L535.62 351.1 L535.58 350.6 L535.57 350.1 L535.61 349.6 L535.67 349.1 L535.76 348.6 L535.88 348.1 L536.04 347.6 L536.24 347.1 L536.49 346.6 L536.77 346.1 L537.07 345.6 L537.38 345.1 L537.7 344.6 L538.02 344.1 L538.35 343.6 L538.67 343.1 L538.99 342.6 L539.29 342.1 L539.57 341.6 L539.84 341.1 L540.08 340.6 L540.3 340.1 L540.51 339.6 L540.71 339.1 L540.9 338.6 L541.09 338.1 L541.28 337.6 L541.48 337.1 L541.69 336.6 L541.91 336.1 L542.15 335.6 L542.41 335.1 L542.68 334.6 L542.96 334.1 L543.26 333.6 L543.56 333.1 L543.88 332.6 L544.2 332.1 L544.53 331.6 L544.88 331.1 L545.25 330.6 L545.64 330.1 L546.03 329.6 L546.43 329.1 L546.81 328.6 L547.15 328.1 L547.44 327.6 L547.68 327.1 L547.87 326.6 L548.03 326.1 L548.17 325.6 L548.29 325.1 L548.4 324.6 L548.51 324.1 L548.61 323.6 L548.72 323.1 L548.83 322.6 L548.94 322.1 L549.05 321.6 L549.16 321.1 L549.28 320.6 L549.39 320.1 L549.51 319.6 L549.63 319.1 L549.75 318.6 L549.89 318.1 L550.03 317.6 L550.18 317.1 L550.34 316.6 L550.51 316.1 L550.69 315.6 L550.87 315.1 L551.05 314.6 L551.23 314.1 L551.4 313.6 L551.56 313.1 L551.72 312.6 L551.87 312.1 L552.02 311.6 L552.15 311.1 L552.26 310.6 L552.34 310.1 L552.4 309.6 L552.43 309.1 L552.44 308.6 L552.45 308.1 L552.45 307.6 L552.45 307.1 L552.45 306.6 L552.45 306.1 L552.45 305.6 L552.45 305.1 L552.45 304.6 L552.45 304.1 L552.45 303.6 L552.45 303.1 L552.45 302.6 L552.45 302.1 L552.45 301.6 L552.45 301.1 L552.45 300.6 L552.45 300.1 L552.45 299.6 L552.45 299.1 L552.45 298.6 L552.45 298.1 L552.44 297.6 L552.43 297.1 L552.41 296.6 L552.39 296.1 L552.36 295.6 L552.32 295.1 L552.27 294.6 L552.19 294.1 L552.09 293.6 L551.95 293.1 L551.78 292.6 L551.58 292.1 L551.35 291.6 L551.1 291.1 L550.84 290.6 L550.57 290.1 L550.3 289.6 L550.05 289.1 L549.83 288.6 L549.66 288.1 L549.54 287.6 L549.47 287.1 L549.47 286.6 L549.53 286.1 L549.64 285.6 L549.79 285.1 L549.98 284.6 L550.21 284.1 L550.46 283.6 L550.73 283.1 L550.99 282.6 L551.25 282.1 L551.5 281.6 L551.73 281.1 L551.94 280.6 L552.13 280.1 L552.28 279.6 L552.38 279.1 L552.46 278.6 L552.51 278.1 L552.54 277.6 L552.57 277.1 L552.59 276.6 L552.61 276.1 L552.63 275.6 L552.64 275.1 L552.65 274.6 L552.67 274.1 L552.68 273.6 L552.68 273.1 L552.69 272.6 L552.69 272.1 L552.7 271.6 Z" fill="#CCC2E8" stroke="#000000" stroke-width="1.3" stroke-linejoin="round"/>
<line x1="536.39" y1="346.8" x2="569.01" y2="346.8" stroke="#000000" stroke-width="1.0"/>
<line x1="545" y1="335.5" x2="560.89" y2="335.5" stroke="#000000" stroke-width="1.3" stroke-opacity="0.88" stroke-dasharray="0.9 1.4"/>
<line x1="541" y1="355.5" x2="564.86" y2="355.5" stroke="#000000" stroke-width="1.3" stroke-opacity="0.88" stroke-dasharray="0.9 1.4"/>
<text x="656.7" y="161.7" font-size="18.2" font-weight="700" text-anchor="middle">Young</text>
<rect x="632.5" y="167.7" width="44.7" height="15.2" fill="#C0D2EA"/>
<rect x="630.7" y="229.4" width="44.8" height="15.8" fill="#CCC2E8"/>
<text x="655.8" y="269.2" font-size="18" font-weight="700" text-anchor="middle">Old</text>
</svg>
</body>
</html>
